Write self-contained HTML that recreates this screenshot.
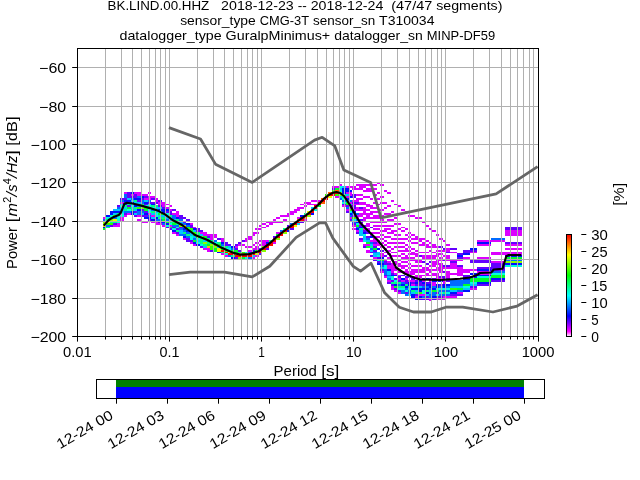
<!DOCTYPE html>
<html><head><meta charset="utf-8"><title>PPSD BK.LIND.00.HHZ</title>
<style>html,body{margin:0;padding:0;background:#fff;overflow:hidden}svg{display:block;will-change:transform}text{font-family:"Liberation Sans",sans-serif;fill:#000}</style></head><body>
<svg width="640" height="480" viewBox="0 0 640 480">
<rect x="0" y="0" width="640" height="480" fill="#fff"/>
<g shape-rendering="crispEdges">
<rect x="103" y="228" width="3" height="2" fill="#00ff2a"/>
<rect x="103" y="227" width="3" height="1" fill="#0010ff"/>
<rect x="103" y="225" width="3" height="2" fill="#e6ff00"/>
<rect x="103" y="221" width="3" height="4" fill="#8bff00"/>
<rect x="103" y="219" width="3" height="2" fill="#006bff"/>
<rect x="103" y="217" width="3" height="2" fill="#db00ff"/>
<rect x="106" y="227" width="4" height="1" fill="#00ff84"/>
<rect x="106" y="225" width="4" height="2" fill="#006bff"/>
<rect x="106" y="223" width="4" height="2" fill="#31ff00"/>
<rect x="106" y="221" width="4" height="2" fill="#e6ff00"/>
<rect x="106" y="219" width="4" height="2" fill="#00ff84"/>
<rect x="106" y="217" width="4" height="2" fill="#00ffde"/>
<rect x="106" y="215" width="4" height="2" fill="#0010ff"/>
<rect x="110" y="225" width="3" height="2" fill="#6300ff"/>
<rect x="110" y="223" width="3" height="2" fill="#31ff00"/>
<rect x="110" y="221" width="3" height="2" fill="#00ff84"/>
<rect x="110" y="219" width="3" height="2" fill="#8bff00"/>
<rect x="110" y="217" width="3" height="2" fill="#00ff84"/>
<rect x="110" y="215" width="3" height="2" fill="#00ffde"/>
<rect x="110" y="211" width="3" height="4" fill="#0010ff"/>
<rect x="113" y="225" width="4" height="2" fill="#db00ff"/>
<rect x="113" y="223" width="4" height="2" fill="#6300ff"/>
<rect x="113" y="221" width="4" height="2" fill="#00ff84"/>
<rect x="113" y="219" width="4" height="2" fill="#e6ff00"/>
<rect x="113" y="217" width="4" height="2" fill="#006bff"/>
<rect x="113" y="215" width="4" height="2" fill="#31ff00"/>
<rect x="113" y="213" width="4" height="2" fill="#00c5ff"/>
<rect x="113" y="211" width="4" height="2" fill="#0010ff"/>
<rect x="113" y="209" width="4" height="2" fill="#00c5ff"/>
<rect x="117" y="223" width="3" height="4" fill="#db00ff"/>
<rect x="117" y="215" width="3" height="8" fill="#00ffde"/>
<rect x="117" y="213" width="3" height="2" fill="#00ff84"/>
<rect x="117" y="211" width="3" height="2" fill="#0010ff"/>
<rect x="117" y="209" width="3" height="2" fill="#00c5ff"/>
<rect x="117" y="207" width="3" height="2" fill="#006bff"/>
<rect x="117" y="205" width="3" height="2" fill="#6300ff"/>
<rect x="120" y="217" width="4" height="4" fill="#db00ff"/>
<rect x="120" y="213" width="4" height="4" fill="#00ffde"/>
<rect x="120" y="207" width="4" height="6" fill="#00c5ff"/>
<rect x="120" y="205" width="4" height="2" fill="#00ffde"/>
<rect x="120" y="204" width="4" height="1" fill="#00c5ff"/>
<rect x="120" y="202" width="4" height="2" fill="#db00ff"/>
<rect x="120" y="200" width="4" height="2" fill="#006bff"/>
<rect x="120" y="198" width="4" height="2" fill="#6300ff"/>
<rect x="124" y="215" width="3" height="2" fill="#db00ff"/>
<rect x="124" y="213" width="3" height="2" fill="#6300ff"/>
<rect x="124" y="211" width="3" height="2" fill="#006bff"/>
<rect x="124" y="209" width="3" height="2" fill="#00ff84"/>
<rect x="124" y="207" width="3" height="2" fill="#00c5ff"/>
<rect x="124" y="205" width="3" height="2" fill="#00ff84"/>
<rect x="124" y="204" width="3" height="1" fill="#0010ff"/>
<rect x="124" y="202" width="3" height="2" fill="#006bff"/>
<rect x="124" y="200" width="3" height="2" fill="#0010ff"/>
<rect x="124" y="198" width="3" height="2" fill="#6300ff"/>
<rect x="124" y="194" width="3" height="4" fill="#006bff"/>
<rect x="124" y="192" width="3" height="2" fill="#db00ff"/>
<rect x="127" y="213" width="4" height="2" fill="#db00ff"/>
<rect x="127" y="211" width="4" height="2" fill="#006bff"/>
<rect x="127" y="209" width="4" height="2" fill="#00ffde"/>
<rect x="127" y="207" width="4" height="2" fill="#00ff2a"/>
<rect x="127" y="205" width="4" height="2" fill="#6300ff"/>
<rect x="127" y="204" width="4" height="1" fill="#00ff84"/>
<rect x="127" y="202" width="4" height="2" fill="#00c5ff"/>
<rect x="127" y="200" width="4" height="2" fill="#0010ff"/>
<rect x="127" y="198" width="4" height="2" fill="#00c5ff"/>
<rect x="127" y="192" width="4" height="6" fill="#6300ff"/>
<rect x="131" y="211" width="3" height="4" fill="#0010ff"/>
<rect x="131" y="209" width="3" height="2" fill="#00ff84"/>
<rect x="131" y="207" width="3" height="2" fill="#00c5ff"/>
<rect x="131" y="205" width="3" height="2" fill="#00ffde"/>
<rect x="131" y="204" width="3" height="1" fill="#00c5ff"/>
<rect x="131" y="202" width="3" height="2" fill="#0010ff"/>
<rect x="131" y="200" width="3" height="2" fill="#00c5ff"/>
<rect x="131" y="198" width="3" height="2" fill="#006bff"/>
<rect x="131" y="196" width="3" height="2" fill="#6300ff"/>
<rect x="131" y="194" width="3" height="2" fill="#db00ff"/>
<rect x="131" y="192" width="3" height="2" fill="#0010ff"/>
<rect x="134" y="215" width="3" height="2" fill="#6300ff"/>
<rect x="134" y="213" width="3" height="2" fill="#00c5ff"/>
<rect x="134" y="211" width="3" height="2" fill="#6300ff"/>
<rect x="134" y="209" width="3" height="2" fill="#00c5ff"/>
<rect x="134" y="207" width="3" height="2" fill="#00ff84"/>
<rect x="134" y="204" width="3" height="3" fill="#0010ff"/>
<rect x="134" y="202" width="3" height="2" fill="#00c5ff"/>
<rect x="134" y="200" width="3" height="2" fill="#00ff84"/>
<rect x="134" y="198" width="3" height="2" fill="#0010ff"/>
<rect x="134" y="194" width="3" height="4" fill="#6300ff"/>
<rect x="134" y="192" width="3" height="2" fill="#db00ff"/>
<rect x="137" y="219" width="4" height="2" fill="#db00ff"/>
<rect x="137" y="215" width="4" height="2" fill="#db00ff"/>
<rect x="137" y="211" width="4" height="4" fill="#006bff"/>
<rect x="137" y="209" width="4" height="2" fill="#0010ff"/>
<rect x="137" y="207" width="4" height="2" fill="#31ff00"/>
<rect x="137" y="205" width="4" height="2" fill="#006bff"/>
<rect x="137" y="202" width="4" height="3" fill="#00c5ff"/>
<rect x="137" y="200" width="4" height="2" fill="#6300ff"/>
<rect x="137" y="198" width="4" height="2" fill="#0010ff"/>
<rect x="137" y="196" width="4" height="2" fill="#006bff"/>
<rect x="137" y="192" width="4" height="4" fill="#db00ff"/>
<rect x="141" y="221" width="3" height="2" fill="#db00ff"/>
<rect x="141" y="215" width="3" height="2" fill="#6300ff"/>
<rect x="141" y="213" width="3" height="2" fill="#00c5ff"/>
<rect x="141" y="211" width="3" height="2" fill="#006bff"/>
<rect x="141" y="209" width="3" height="2" fill="#6300ff"/>
<rect x="141" y="207" width="3" height="2" fill="#8bff00"/>
<rect x="141" y="205" width="3" height="2" fill="#6300ff"/>
<rect x="141" y="204" width="3" height="1" fill="#00ff84"/>
<rect x="141" y="200" width="3" height="4" fill="#006bff"/>
<rect x="141" y="198" width="3" height="2" fill="#6300ff"/>
<rect x="141" y="196" width="3" height="2" fill="#0010ff"/>
<rect x="141" y="194" width="3" height="2" fill="#db00ff"/>
<rect x="144" y="221" width="4" height="2" fill="#db00ff"/>
<rect x="144" y="217" width="4" height="2" fill="#0010ff"/>
<rect x="144" y="215" width="4" height="2" fill="#6300ff"/>
<rect x="144" y="213" width="4" height="2" fill="#0010ff"/>
<rect x="144" y="211" width="4" height="2" fill="#6300ff"/>
<rect x="144" y="207" width="4" height="4" fill="#00ff2a"/>
<rect x="144" y="205" width="4" height="2" fill="#00ffde"/>
<rect x="144" y="204" width="4" height="1" fill="#6300ff"/>
<rect x="144" y="202" width="4" height="2" fill="#0010ff"/>
<rect x="144" y="200" width="4" height="2" fill="#00c5ff"/>
<rect x="144" y="198" width="4" height="2" fill="#db00ff"/>
<rect x="144" y="196" width="4" height="2" fill="#6300ff"/>
<rect x="144" y="194" width="4" height="2" fill="#db00ff"/>
<rect x="148" y="219" width="3" height="2" fill="#6300ff"/>
<rect x="148" y="217" width="3" height="2" fill="#0010ff"/>
<rect x="148" y="215" width="3" height="2" fill="#006bff"/>
<rect x="148" y="213" width="3" height="2" fill="#db00ff"/>
<rect x="148" y="209" width="3" height="4" fill="#00ffde"/>
<rect x="148" y="207" width="3" height="2" fill="#006bff"/>
<rect x="148" y="204" width="3" height="3" fill="#00ffde"/>
<rect x="148" y="202" width="3" height="2" fill="#6300ff"/>
<rect x="148" y="200" width="3" height="2" fill="#006bff"/>
<rect x="148" y="196" width="3" height="4" fill="#db00ff"/>
<rect x="148" y="192" width="3" height="2" fill="#db00ff"/>
<rect x="151" y="221" width="4" height="2" fill="#db00ff"/>
<rect x="151" y="219" width="4" height="2" fill="#0010ff"/>
<rect x="151" y="217" width="4" height="2" fill="#00c5ff"/>
<rect x="151" y="215" width="4" height="2" fill="#db00ff"/>
<rect x="151" y="213" width="4" height="2" fill="#00c5ff"/>
<rect x="151" y="211" width="4" height="2" fill="#00ff84"/>
<rect x="151" y="209" width="4" height="2" fill="#006bff"/>
<rect x="151" y="207" width="4" height="2" fill="#00ffde"/>
<rect x="151" y="205" width="4" height="2" fill="#00ff84"/>
<rect x="151" y="204" width="4" height="1" fill="#0010ff"/>
<rect x="151" y="202" width="4" height="2" fill="#6300ff"/>
<rect x="151" y="198" width="4" height="2" fill="#6300ff"/>
<rect x="151" y="196" width="4" height="2" fill="#db00ff"/>
<rect x="155" y="221" width="3" height="4" fill="#db00ff"/>
<rect x="155" y="219" width="3" height="2" fill="#006bff"/>
<rect x="155" y="217" width="3" height="2" fill="#0010ff"/>
<rect x="155" y="213" width="3" height="4" fill="#00ffde"/>
<rect x="155" y="207" width="3" height="6" fill="#00c5ff"/>
<rect x="155" y="205" width="3" height="2" fill="#00ff84"/>
<rect x="155" y="202" width="3" height="2" fill="#6300ff"/>
<rect x="155" y="198" width="3" height="4" fill="#db00ff"/>
<rect x="158" y="223" width="4" height="2" fill="#db00ff"/>
<rect x="158" y="221" width="4" height="2" fill="#6300ff"/>
<rect x="158" y="219" width="4" height="2" fill="#006bff"/>
<rect x="158" y="217" width="4" height="2" fill="#00ff84"/>
<rect x="158" y="215" width="4" height="2" fill="#00c5ff"/>
<rect x="158" y="213" width="4" height="2" fill="#00ff2a"/>
<rect x="158" y="211" width="4" height="2" fill="#00ffde"/>
<rect x="158" y="209" width="4" height="2" fill="#0010ff"/>
<rect x="158" y="207" width="4" height="2" fill="#00c5ff"/>
<rect x="158" y="205" width="4" height="2" fill="#6300ff"/>
<rect x="158" y="202" width="4" height="3" fill="#db00ff"/>
<rect x="158" y="200" width="4" height="2" fill="#6300ff"/>
<rect x="162" y="225" width="3" height="2" fill="#db00ff"/>
<rect x="162" y="223" width="3" height="2" fill="#006bff"/>
<rect x="162" y="221" width="3" height="2" fill="#0010ff"/>
<rect x="162" y="219" width="3" height="2" fill="#00ff2a"/>
<rect x="162" y="217" width="3" height="2" fill="#00ff84"/>
<rect x="162" y="215" width="3" height="2" fill="#00c5ff"/>
<rect x="162" y="213" width="3" height="2" fill="#00ff2a"/>
<rect x="162" y="209" width="3" height="4" fill="#0010ff"/>
<rect x="162" y="207" width="3" height="2" fill="#6300ff"/>
<rect x="162" y="202" width="3" height="5" fill="#db00ff"/>
<rect x="165" y="227" width="4" height="1" fill="#6300ff"/>
<rect x="165" y="225" width="4" height="2" fill="#00ffde"/>
<rect x="165" y="223" width="4" height="2" fill="#0010ff"/>
<rect x="165" y="221" width="4" height="2" fill="#00ff2a"/>
<rect x="165" y="219" width="4" height="2" fill="#006bff"/>
<rect x="165" y="217" width="4" height="2" fill="#00c5ff"/>
<rect x="165" y="213" width="4" height="4" fill="#00ffde"/>
<rect x="165" y="211" width="4" height="2" fill="#6300ff"/>
<rect x="165" y="209" width="4" height="2" fill="#0010ff"/>
<rect x="165" y="207" width="4" height="2" fill="#db00ff"/>
<rect x="165" y="204" width="4" height="1" fill="#db00ff"/>
<rect x="169" y="228" width="3" height="2" fill="#6300ff"/>
<rect x="169" y="227" width="3" height="1" fill="#00ff2a"/>
<rect x="169" y="225" width="3" height="2" fill="#db00ff"/>
<rect x="169" y="223" width="3" height="2" fill="#00ffde"/>
<rect x="169" y="221" width="3" height="2" fill="#00ff84"/>
<rect x="169" y="217" width="3" height="4" fill="#00c5ff"/>
<rect x="169" y="215" width="3" height="2" fill="#00ff84"/>
<rect x="169" y="211" width="3" height="4" fill="#6300ff"/>
<rect x="169" y="209" width="3" height="2" fill="#db00ff"/>
<rect x="169" y="205" width="3" height="2" fill="#db00ff"/>
<rect x="172" y="232" width="4" height="2" fill="#db00ff"/>
<rect x="172" y="230" width="4" height="2" fill="#0010ff"/>
<rect x="172" y="228" width="4" height="2" fill="#00ffde"/>
<rect x="172" y="227" width="4" height="1" fill="#6300ff"/>
<rect x="172" y="225" width="4" height="2" fill="#006bff"/>
<rect x="172" y="223" width="4" height="2" fill="#00ff2a"/>
<rect x="172" y="221" width="4" height="2" fill="#00ff84"/>
<rect x="172" y="219" width="4" height="2" fill="#00c5ff"/>
<rect x="172" y="215" width="4" height="4" fill="#006bff"/>
<rect x="172" y="213" width="4" height="2" fill="#db00ff"/>
<rect x="172" y="209" width="4" height="2" fill="#6300ff"/>
<rect x="176" y="234" width="3" height="2" fill="#db00ff"/>
<rect x="176" y="232" width="3" height="2" fill="#6300ff"/>
<rect x="176" y="230" width="3" height="2" fill="#00ff84"/>
<rect x="176" y="228" width="3" height="2" fill="#6300ff"/>
<rect x="176" y="227" width="3" height="1" fill="#00ffde"/>
<rect x="176" y="225" width="3" height="2" fill="#006bff"/>
<rect x="176" y="223" width="3" height="2" fill="#00ff84"/>
<rect x="176" y="221" width="3" height="2" fill="#00c5ff"/>
<rect x="176" y="219" width="3" height="2" fill="#00ff84"/>
<rect x="176" y="217" width="3" height="2" fill="#0010ff"/>
<rect x="176" y="211" width="3" height="6" fill="#db00ff"/>
<rect x="179" y="234" width="4" height="2" fill="#006bff"/>
<rect x="179" y="230" width="4" height="4" fill="#00c5ff"/>
<rect x="179" y="228" width="4" height="2" fill="#006bff"/>
<rect x="179" y="227" width="4" height="1" fill="#6300ff"/>
<rect x="179" y="225" width="4" height="2" fill="#8bff00"/>
<rect x="179" y="223" width="4" height="2" fill="#006bff"/>
<rect x="179" y="221" width="4" height="2" fill="#00c5ff"/>
<rect x="179" y="219" width="4" height="2" fill="#006bff"/>
<rect x="179" y="215" width="4" height="4" fill="#6300ff"/>
<rect x="183" y="238" width="3" height="2" fill="#db00ff"/>
<rect x="183" y="236" width="3" height="2" fill="#0010ff"/>
<rect x="183" y="234" width="3" height="2" fill="#006bff"/>
<rect x="183" y="232" width="3" height="2" fill="#00ff84"/>
<rect x="183" y="230" width="3" height="2" fill="#006bff"/>
<rect x="183" y="228" width="3" height="2" fill="#0010ff"/>
<rect x="183" y="227" width="3" height="1" fill="#00c5ff"/>
<rect x="183" y="225" width="3" height="2" fill="#ffbe00"/>
<rect x="183" y="223" width="3" height="2" fill="#006bff"/>
<rect x="183" y="221" width="3" height="2" fill="#6300ff"/>
<rect x="183" y="217" width="3" height="2" fill="#6300ff"/>
<rect x="186" y="238" width="4" height="4" fill="#6300ff"/>
<rect x="186" y="236" width="4" height="2" fill="#006bff"/>
<rect x="186" y="234" width="4" height="2" fill="#00ff84"/>
<rect x="186" y="232" width="4" height="2" fill="#006bff"/>
<rect x="186" y="230" width="4" height="2" fill="#0010ff"/>
<rect x="186" y="228" width="4" height="2" fill="#00ff84"/>
<rect x="186" y="227" width="4" height="1" fill="#31ff00"/>
<rect x="186" y="225" width="4" height="2" fill="#006bff"/>
<rect x="186" y="223" width="4" height="2" fill="#0010ff"/>
<rect x="186" y="219" width="4" height="2" fill="#6300ff"/>
<rect x="190" y="242" width="3" height="2" fill="#db00ff"/>
<rect x="190" y="240" width="3" height="2" fill="#6300ff"/>
<rect x="190" y="236" width="3" height="4" fill="#00ffde"/>
<rect x="190" y="232" width="3" height="4" fill="#00c5ff"/>
<rect x="190" y="230" width="3" height="2" fill="#00ff2a"/>
<rect x="190" y="228" width="3" height="2" fill="#31ff00"/>
<rect x="190" y="225" width="3" height="3" fill="#6300ff"/>
<rect x="190" y="223" width="3" height="2" fill="#db00ff"/>
<rect x="193" y="244" width="3" height="2" fill="#db00ff"/>
<rect x="193" y="242" width="3" height="2" fill="#0010ff"/>
<rect x="193" y="240" width="3" height="2" fill="#00ff2a"/>
<rect x="193" y="238" width="3" height="2" fill="#006bff"/>
<rect x="193" y="236" width="3" height="2" fill="#00c5ff"/>
<rect x="193" y="234" width="3" height="2" fill="#00ff2a"/>
<rect x="193" y="232" width="3" height="2" fill="#31ff00"/>
<rect x="193" y="230" width="3" height="2" fill="#00c5ff"/>
<rect x="193" y="228" width="3" height="2" fill="#0010ff"/>
<rect x="193" y="227" width="3" height="1" fill="#db00ff"/>
<rect x="196" y="244" width="4" height="2" fill="#0010ff"/>
<rect x="196" y="242" width="4" height="2" fill="#00ffde"/>
<rect x="196" y="240" width="4" height="2" fill="#00c5ff"/>
<rect x="196" y="238" width="4" height="2" fill="#00ffde"/>
<rect x="196" y="236" width="4" height="2" fill="#31ff00"/>
<rect x="196" y="232" width="4" height="4" fill="#00ff84"/>
<rect x="196" y="228" width="4" height="4" fill="#6300ff"/>
<rect x="200" y="246" width="3" height="2" fill="#6300ff"/>
<rect x="200" y="244" width="3" height="2" fill="#00ffde"/>
<rect x="200" y="238" width="3" height="6" fill="#00ff84"/>
<rect x="200" y="236" width="3" height="2" fill="#8bff00"/>
<rect x="200" y="234" width="3" height="2" fill="#00c5ff"/>
<rect x="200" y="232" width="3" height="2" fill="#db00ff"/>
<rect x="200" y="230" width="3" height="2" fill="#6300ff"/>
<rect x="203" y="248" width="4" height="2" fill="#db00ff"/>
<rect x="203" y="246" width="4" height="2" fill="#00c5ff"/>
<rect x="203" y="244" width="4" height="2" fill="#00ff84"/>
<rect x="203" y="242" width="4" height="2" fill="#8bff00"/>
<rect x="203" y="240" width="4" height="2" fill="#00c5ff"/>
<rect x="203" y="238" width="4" height="2" fill="#31ff00"/>
<rect x="203" y="236" width="4" height="2" fill="#00ff2a"/>
<rect x="203" y="232" width="4" height="4" fill="#db00ff"/>
<rect x="207" y="248" width="3" height="4" fill="#db00ff"/>
<rect x="207" y="246" width="3" height="2" fill="#ffbe00"/>
<rect x="207" y="244" width="3" height="2" fill="#00ff2a"/>
<rect x="207" y="242" width="3" height="2" fill="#00ff84"/>
<rect x="207" y="240" width="3" height="2" fill="#00ff2a"/>
<rect x="207" y="238" width="3" height="2" fill="#00ff84"/>
<rect x="207" y="236" width="3" height="2" fill="#6300ff"/>
<rect x="207" y="234" width="3" height="2" fill="#db00ff"/>
<rect x="210" y="250" width="4" height="2" fill="#6300ff"/>
<rect x="210" y="246" width="4" height="4" fill="#31ff00"/>
<rect x="210" y="244" width="4" height="2" fill="#8bff00"/>
<rect x="210" y="240" width="4" height="4" fill="#00ff84"/>
<rect x="210" y="234" width="4" height="6" fill="#db00ff"/>
<rect x="214" y="248" width="3" height="4" fill="#00ff2a"/>
<rect x="214" y="246" width="3" height="2" fill="#8bff00"/>
<rect x="214" y="244" width="3" height="2" fill="#31ff00"/>
<rect x="214" y="242" width="3" height="2" fill="#00ffde"/>
<rect x="214" y="240" width="3" height="2" fill="#006bff"/>
<rect x="214" y="234" width="3" height="4" fill="#db00ff"/>
<rect x="217" y="252" width="4" height="1" fill="#0010ff"/>
<rect x="217" y="248" width="4" height="4" fill="#e6ff00"/>
<rect x="217" y="246" width="4" height="2" fill="#00c5ff"/>
<rect x="217" y="244" width="4" height="2" fill="#00ff2a"/>
<rect x="217" y="242" width="4" height="2" fill="#00ff84"/>
<rect x="217" y="238" width="4" height="2" fill="#6300ff"/>
<rect x="221" y="253" width="3" height="2" fill="#db00ff"/>
<rect x="221" y="252" width="3" height="1" fill="#00ff84"/>
<rect x="221" y="250" width="3" height="2" fill="#ff0000"/>
<rect x="221" y="248" width="3" height="2" fill="#00ff2a"/>
<rect x="221" y="246" width="3" height="2" fill="#00ff84"/>
<rect x="221" y="244" width="3" height="2" fill="#006bff"/>
<rect x="221" y="242" width="3" height="2" fill="#0010ff"/>
<rect x="221" y="238" width="3" height="4" fill="#db00ff"/>
<rect x="224" y="255" width="4" height="2" fill="#db00ff"/>
<rect x="224" y="253" width="4" height="2" fill="#00ffde"/>
<rect x="224" y="252" width="4" height="1" fill="#ff0900"/>
<rect x="224" y="250" width="4" height="2" fill="#31ff00"/>
<rect x="224" y="248" width="4" height="2" fill="#00ffde"/>
<rect x="224" y="246" width="4" height="2" fill="#00ff84"/>
<rect x="224" y="242" width="4" height="4" fill="#6300ff"/>
<rect x="228" y="255" width="3" height="2" fill="#006bff"/>
<rect x="228" y="253" width="3" height="2" fill="#ff0900"/>
<rect x="228" y="252" width="3" height="1" fill="#e6ff00"/>
<rect x="228" y="250" width="3" height="2" fill="#00c5ff"/>
<rect x="228" y="248" width="3" height="2" fill="#00ffde"/>
<rect x="228" y="246" width="3" height="2" fill="#00c5ff"/>
<rect x="228" y="244" width="3" height="2" fill="#6300ff"/>
<rect x="231" y="257" width="4" height="2" fill="#0010ff"/>
<rect x="231" y="255" width="4" height="2" fill="#00ff84"/>
<rect x="231" y="253" width="4" height="2" fill="#ff0000"/>
<rect x="231" y="252" width="4" height="1" fill="#00ff84"/>
<rect x="231" y="250" width="4" height="2" fill="#00ff2a"/>
<rect x="231" y="248" width="4" height="2" fill="#006bff"/>
<rect x="231" y="246" width="4" height="2" fill="#0010ff"/>
<rect x="235" y="257" width="3" height="2" fill="#6300ff"/>
<rect x="235" y="255" width="3" height="2" fill="#ff0000"/>
<rect x="235" y="250" width="3" height="5" fill="#00ff2a"/>
<rect x="235" y="248" width="3" height="2" fill="#6300ff"/>
<rect x="235" y="246" width="3" height="2" fill="#db00ff"/>
<rect x="235" y="244" width="3" height="2" fill="#6300ff"/>
<rect x="238" y="257" width="4" height="2" fill="#8bff00"/>
<rect x="238" y="255" width="4" height="2" fill="#ff0900"/>
<rect x="238" y="253" width="4" height="2" fill="#e6ff00"/>
<rect x="238" y="252" width="4" height="1" fill="#00ff84"/>
<rect x="238" y="250" width="4" height="2" fill="#6300ff"/>
<rect x="238" y="244" width="4" height="2" fill="#db00ff"/>
<rect x="238" y="242" width="4" height="2" fill="#6300ff"/>
<rect x="242" y="257" width="3" height="2" fill="#00ff2a"/>
<rect x="242" y="255" width="3" height="2" fill="#ff0000"/>
<rect x="242" y="253" width="3" height="2" fill="#8bff00"/>
<rect x="242" y="252" width="3" height="1" fill="#31ff00"/>
<rect x="242" y="244" width="3" height="2" fill="#db00ff"/>
<rect x="242" y="240" width="3" height="2" fill="#6300ff"/>
<rect x="245" y="257" width="3" height="2" fill="#00ffde"/>
<rect x="245" y="255" width="3" height="2" fill="#ff0000"/>
<rect x="245" y="253" width="3" height="2" fill="#8bff00"/>
<rect x="245" y="252" width="3" height="1" fill="#00ffde"/>
<rect x="245" y="246" width="3" height="2" fill="#db00ff"/>
<rect x="245" y="238" width="3" height="4" fill="#db00ff"/>
<rect x="248" y="257" width="4" height="2" fill="#006bff"/>
<rect x="248" y="255" width="4" height="2" fill="#ff0000"/>
<rect x="248" y="253" width="4" height="2" fill="#ff0000"/>
<rect x="248" y="252" width="4" height="1" fill="#006bff"/>
<rect x="248" y="250" width="4" height="2" fill="#db00ff"/>
<rect x="248" y="246" width="4" height="2" fill="#db00ff"/>
<rect x="248" y="236" width="4" height="4" fill="#db00ff"/>
<rect x="252" y="257" width="3" height="2" fill="#db00ff"/>
<rect x="252" y="255" width="3" height="2" fill="#00c5ff"/>
<rect x="252" y="253" width="3" height="2" fill="#ff0000"/>
<rect x="252" y="252" width="3" height="1" fill="#ffbe00"/>
<rect x="252" y="250" width="3" height="2" fill="#0010ff"/>
<rect x="252" y="248" width="3" height="2" fill="#db00ff"/>
<rect x="252" y="244" width="3" height="2" fill="#db00ff"/>
<rect x="252" y="232" width="3" height="4" fill="#db00ff"/>
<rect x="255" y="255" width="4" height="2" fill="#db00ff"/>
<rect x="255" y="253" width="4" height="2" fill="#e6ff00"/>
<rect x="255" y="252" width="4" height="1" fill="#ff0000"/>
<rect x="255" y="250" width="4" height="2" fill="#00ff2a"/>
<rect x="255" y="246" width="4" height="4" fill="#db00ff"/>
<rect x="255" y="242" width="4" height="2" fill="#db00ff"/>
<rect x="255" y="232" width="4" height="2" fill="#db00ff"/>
<rect x="255" y="228" width="4" height="2" fill="#db00ff"/>
<rect x="259" y="253" width="3" height="2" fill="#6300ff"/>
<rect x="259" y="252" width="3" height="1" fill="#ff0000"/>
<rect x="259" y="250" width="3" height="2" fill="#ff0000"/>
<rect x="259" y="248" width="3" height="2" fill="#006bff"/>
<rect x="259" y="244" width="3" height="2" fill="#db00ff"/>
<rect x="259" y="240" width="3" height="2" fill="#db00ff"/>
<rect x="259" y="228" width="3" height="2" fill="#db00ff"/>
<rect x="259" y="225" width="3" height="2" fill="#db00ff"/>
<rect x="262" y="250" width="4" height="2" fill="#8bff00"/>
<rect x="262" y="248" width="4" height="2" fill="#ff0000"/>
<rect x="262" y="246" width="4" height="2" fill="#8bff00"/>
<rect x="262" y="240" width="4" height="6" fill="#db00ff"/>
<rect x="262" y="227" width="4" height="1" fill="#db00ff"/>
<rect x="262" y="223" width="4" height="2" fill="#db00ff"/>
<rect x="266" y="248" width="3" height="2" fill="#6300ff"/>
<rect x="266" y="246" width="3" height="2" fill="#ff0000"/>
<rect x="266" y="244" width="3" height="2" fill="#ff0000"/>
<rect x="266" y="242" width="3" height="2" fill="#0010ff"/>
<rect x="266" y="240" width="3" height="2" fill="#db00ff"/>
<rect x="266" y="225" width="3" height="2" fill="#db00ff"/>
<rect x="266" y="221" width="3" height="2" fill="#db00ff"/>
<rect x="269" y="244" width="4" height="2" fill="#ff0900"/>
<rect x="269" y="242" width="4" height="2" fill="#ff0000"/>
<rect x="269" y="240" width="4" height="2" fill="#00ff84"/>
<rect x="269" y="221" width="4" height="4" fill="#db00ff"/>
<rect x="273" y="242" width="3" height="2" fill="#db00ff"/>
<rect x="273" y="240" width="3" height="2" fill="#ff0000"/>
<rect x="273" y="238" width="3" height="2" fill="#ff0000"/>
<rect x="273" y="236" width="3" height="2" fill="#6300ff"/>
<rect x="273" y="219" width="3" height="4" fill="#db00ff"/>
<rect x="276" y="238" width="4" height="2" fill="#8bff00"/>
<rect x="276" y="236" width="4" height="2" fill="#ff0000"/>
<rect x="276" y="234" width="4" height="2" fill="#00ff2a"/>
<rect x="276" y="232" width="4" height="2" fill="#db00ff"/>
<rect x="276" y="221" width="4" height="2" fill="#db00ff"/>
<rect x="276" y="217" width="4" height="2" fill="#db00ff"/>
<rect x="280" y="234" width="3" height="2" fill="#ff0000"/>
<rect x="280" y="232" width="3" height="2" fill="#ff0000"/>
<rect x="280" y="230" width="3" height="2" fill="#006bff"/>
<rect x="280" y="221" width="3" height="2" fill="#db00ff"/>
<rect x="280" y="215" width="3" height="2" fill="#db00ff"/>
<rect x="283" y="232" width="4" height="2" fill="#8bff00"/>
<rect x="283" y="230" width="4" height="2" fill="#ff0000"/>
<rect x="283" y="228" width="4" height="2" fill="#00ff84"/>
<rect x="283" y="219" width="4" height="2" fill="#db00ff"/>
<rect x="283" y="215" width="4" height="2" fill="#db00ff"/>
<rect x="287" y="230" width="3" height="2" fill="#0010ff"/>
<rect x="287" y="228" width="3" height="2" fill="#ff0000"/>
<rect x="287" y="227" width="3" height="1" fill="#ff0000"/>
<rect x="287" y="225" width="3" height="2" fill="#6300ff"/>
<rect x="287" y="213" width="3" height="4" fill="#db00ff"/>
<rect x="290" y="228" width="4" height="2" fill="#6300ff"/>
<rect x="290" y="227" width="4" height="1" fill="#ff0000"/>
<rect x="290" y="225" width="4" height="2" fill="#ff0000"/>
<rect x="290" y="223" width="4" height="2" fill="#006bff"/>
<rect x="290" y="211" width="4" height="4" fill="#db00ff"/>
<rect x="294" y="225" width="3" height="2" fill="#e6ff00"/>
<rect x="294" y="223" width="3" height="2" fill="#ff0000"/>
<rect x="294" y="221" width="3" height="2" fill="#e6ff00"/>
<rect x="294" y="209" width="3" height="4" fill="#db00ff"/>
<rect x="297" y="223" width="3" height="2" fill="#00c5ff"/>
<rect x="297" y="221" width="3" height="2" fill="#ff0000"/>
<rect x="297" y="219" width="3" height="2" fill="#ff6300"/>
<rect x="297" y="217" width="3" height="2" fill="#db00ff"/>
<rect x="297" y="207" width="3" height="4" fill="#db00ff"/>
<rect x="300" y="221" width="4" height="2" fill="#6300ff"/>
<rect x="300" y="219" width="4" height="2" fill="#ff0000"/>
<rect x="300" y="217" width="4" height="2" fill="#ff0000"/>
<rect x="300" y="215" width="4" height="2" fill="#0010ff"/>
<rect x="300" y="207" width="4" height="2" fill="#db00ff"/>
<rect x="300" y="204" width="4" height="1" fill="#db00ff"/>
<rect x="304" y="219" width="3" height="2" fill="#db00ff"/>
<rect x="304" y="217" width="3" height="2" fill="#ff6300"/>
<rect x="304" y="215" width="3" height="2" fill="#ff0000"/>
<rect x="304" y="213" width="3" height="2" fill="#00ff84"/>
<rect x="304" y="205" width="3" height="2" fill="#db00ff"/>
<rect x="304" y="202" width="3" height="2" fill="#db00ff"/>
<rect x="307" y="215" width="4" height="2" fill="#8bff00"/>
<rect x="307" y="213" width="4" height="2" fill="#ff0000"/>
<rect x="307" y="211" width="4" height="2" fill="#e6ff00"/>
<rect x="307" y="202" width="4" height="3" fill="#db00ff"/>
<rect x="311" y="213" width="3" height="2" fill="#0010ff"/>
<rect x="311" y="211" width="3" height="2" fill="#ff0000"/>
<rect x="311" y="209" width="3" height="2" fill="#ff0000"/>
<rect x="311" y="207" width="3" height="2" fill="#00c5ff"/>
<rect x="311" y="204" width="3" height="1" fill="#db00ff"/>
<rect x="311" y="200" width="3" height="2" fill="#db00ff"/>
<rect x="314" y="209" width="4" height="2" fill="#00ffde"/>
<rect x="314" y="207" width="4" height="2" fill="#ff0000"/>
<rect x="314" y="205" width="4" height="2" fill="#ff0000"/>
<rect x="314" y="204" width="4" height="1" fill="#db00ff"/>
<rect x="314" y="200" width="4" height="2" fill="#db00ff"/>
<rect x="318" y="205" width="3" height="2" fill="#00ff2a"/>
<rect x="318" y="204" width="3" height="1" fill="#ff0000"/>
<rect x="318" y="202" width="3" height="2" fill="#ff0900"/>
<rect x="318" y="200" width="3" height="2" fill="#db00ff"/>
<rect x="321" y="202" width="4" height="2" fill="#ff6300"/>
<rect x="321" y="200" width="4" height="2" fill="#ff0000"/>
<rect x="321" y="198" width="4" height="2" fill="#ff6300"/>
<rect x="325" y="198" width="3" height="2" fill="#ff0000"/>
<rect x="325" y="196" width="3" height="2" fill="#ff0000"/>
<rect x="325" y="194" width="3" height="2" fill="#31ff00"/>
<rect x="328" y="196" width="4" height="2" fill="#e6ff00"/>
<rect x="328" y="194" width="4" height="2" fill="#ff0000"/>
<rect x="328" y="192" width="4" height="2" fill="#ff6300"/>
<rect x="332" y="194" width="3" height="2" fill="#ff0900"/>
<rect x="332" y="192" width="3" height="2" fill="#ff0000"/>
<rect x="332" y="190" width="3" height="2" fill="#31ff00"/>
<rect x="332" y="188" width="3" height="2" fill="#6300ff"/>
<rect x="332" y="186" width="3" height="2" fill="#db00ff"/>
<rect x="335" y="196" width="4" height="2" fill="#db00ff"/>
<rect x="335" y="194" width="4" height="2" fill="#31ff00"/>
<rect x="335" y="192" width="4" height="2" fill="#ff0000"/>
<rect x="335" y="190" width="4" height="2" fill="#ff6300"/>
<rect x="335" y="188" width="4" height="2" fill="#00ff2a"/>
<rect x="335" y="186" width="4" height="2" fill="#db00ff"/>
<rect x="339" y="198" width="3" height="2" fill="#006bff"/>
<rect x="339" y="196" width="3" height="2" fill="#00c5ff"/>
<rect x="339" y="192" width="3" height="4" fill="#8bff00"/>
<rect x="339" y="190" width="3" height="2" fill="#00ffde"/>
<rect x="339" y="188" width="3" height="2" fill="#00c5ff"/>
<rect x="339" y="186" width="3" height="2" fill="#00ffde"/>
<rect x="339" y="184" width="3" height="2" fill="#db00ff"/>
<rect x="342" y="205" width="4" height="2" fill="#db00ff"/>
<rect x="342" y="204" width="4" height="1" fill="#6300ff"/>
<rect x="342" y="202" width="4" height="2" fill="#00ffde"/>
<rect x="342" y="200" width="4" height="2" fill="#006bff"/>
<rect x="342" y="198" width="4" height="2" fill="#00ffde"/>
<rect x="342" y="194" width="4" height="4" fill="#00ff84"/>
<rect x="342" y="188" width="4" height="6" fill="#0010ff"/>
<rect x="342" y="186" width="4" height="2" fill="#00c5ff"/>
<rect x="346" y="211" width="3" height="2" fill="#6300ff"/>
<rect x="346" y="209" width="3" height="2" fill="#db00ff"/>
<rect x="346" y="207" width="3" height="2" fill="#006bff"/>
<rect x="346" y="205" width="3" height="2" fill="#6300ff"/>
<rect x="346" y="204" width="3" height="1" fill="#31ff00"/>
<rect x="346" y="202" width="3" height="2" fill="#00ff2a"/>
<rect x="346" y="200" width="3" height="2" fill="#006bff"/>
<rect x="346" y="198" width="3" height="2" fill="#0010ff"/>
<rect x="346" y="196" width="3" height="2" fill="#db00ff"/>
<rect x="346" y="194" width="3" height="2" fill="#00c5ff"/>
<rect x="346" y="192" width="3" height="2" fill="#db00ff"/>
<rect x="346" y="188" width="3" height="4" fill="#0010ff"/>
<rect x="346" y="186" width="3" height="2" fill="#db00ff"/>
<rect x="349" y="219" width="3" height="2" fill="#6300ff"/>
<rect x="349" y="217" width="3" height="2" fill="#db00ff"/>
<rect x="349" y="215" width="3" height="2" fill="#006bff"/>
<rect x="349" y="213" width="3" height="2" fill="#0010ff"/>
<rect x="349" y="211" width="3" height="2" fill="#00ffde"/>
<rect x="349" y="209" width="3" height="2" fill="#31ff00"/>
<rect x="349" y="207" width="3" height="2" fill="#db00ff"/>
<rect x="349" y="205" width="3" height="2" fill="#6300ff"/>
<rect x="349" y="204" width="3" height="1" fill="#00c5ff"/>
<rect x="349" y="202" width="3" height="2" fill="#db00ff"/>
<rect x="349" y="200" width="3" height="2" fill="#006bff"/>
<rect x="349" y="196" width="3" height="2" fill="#0010ff"/>
<rect x="349" y="192" width="3" height="4" fill="#db00ff"/>
<rect x="349" y="190" width="3" height="2" fill="#0010ff"/>
<rect x="349" y="186" width="3" height="2" fill="#db00ff"/>
<rect x="352" y="228" width="4" height="2" fill="#db00ff"/>
<rect x="352" y="225" width="4" height="2" fill="#db00ff"/>
<rect x="352" y="223" width="4" height="2" fill="#6300ff"/>
<rect x="352" y="221" width="4" height="2" fill="#006bff"/>
<rect x="352" y="219" width="4" height="2" fill="#00ffde"/>
<rect x="352" y="217" width="4" height="2" fill="#31ff00"/>
<rect x="352" y="215" width="4" height="2" fill="#6300ff"/>
<rect x="352" y="213" width="4" height="2" fill="#006bff"/>
<rect x="352" y="211" width="4" height="2" fill="#0010ff"/>
<rect x="352" y="209" width="4" height="2" fill="#db00ff"/>
<rect x="352" y="205" width="4" height="4" fill="#6300ff"/>
<rect x="352" y="204" width="4" height="1" fill="#db00ff"/>
<rect x="352" y="202" width="4" height="2" fill="#6300ff"/>
<rect x="352" y="200" width="4" height="2" fill="#db00ff"/>
<rect x="352" y="194" width="4" height="4" fill="#6300ff"/>
<rect x="352" y="186" width="4" height="4" fill="#db00ff"/>
<rect x="356" y="232" width="3" height="2" fill="#6300ff"/>
<rect x="356" y="230" width="3" height="2" fill="#db00ff"/>
<rect x="356" y="228" width="3" height="2" fill="#0010ff"/>
<rect x="356" y="227" width="3" height="1" fill="#006bff"/>
<rect x="356" y="225" width="3" height="2" fill="#00ff2a"/>
<rect x="356" y="223" width="3" height="2" fill="#00ffde"/>
<rect x="356" y="221" width="3" height="2" fill="#0010ff"/>
<rect x="356" y="219" width="3" height="2" fill="#006bff"/>
<rect x="356" y="215" width="3" height="4" fill="#db00ff"/>
<rect x="356" y="213" width="3" height="2" fill="#006bff"/>
<rect x="356" y="207" width="3" height="4" fill="#db00ff"/>
<rect x="356" y="204" width="3" height="1" fill="#db00ff"/>
<rect x="356" y="202" width="3" height="2" fill="#6300ff"/>
<rect x="356" y="198" width="3" height="4" fill="#db00ff"/>
<rect x="356" y="194" width="3" height="2" fill="#db00ff"/>
<rect x="356" y="188" width="3" height="2" fill="#db00ff"/>
<rect x="356" y="184" width="3" height="2" fill="#db00ff"/>
<rect x="359" y="240" width="4" height="2" fill="#db00ff"/>
<rect x="359" y="238" width="4" height="2" fill="#6300ff"/>
<rect x="359" y="230" width="4" height="6" fill="#00c5ff"/>
<rect x="359" y="228" width="4" height="2" fill="#00ff84"/>
<rect x="359" y="227" width="4" height="1" fill="#0010ff"/>
<rect x="359" y="225" width="4" height="2" fill="#6300ff"/>
<rect x="359" y="223" width="4" height="2" fill="#db00ff"/>
<rect x="359" y="219" width="4" height="4" fill="#6300ff"/>
<rect x="359" y="213" width="4" height="4" fill="#db00ff"/>
<rect x="359" y="209" width="4" height="2" fill="#db00ff"/>
<rect x="359" y="207" width="4" height="2" fill="#6300ff"/>
<rect x="359" y="202" width="4" height="3" fill="#db00ff"/>
<rect x="359" y="198" width="4" height="2" fill="#db00ff"/>
<rect x="359" y="194" width="4" height="2" fill="#db00ff"/>
<rect x="359" y="184" width="4" height="6" fill="#db00ff"/>
<rect x="363" y="246" width="3" height="2" fill="#6300ff"/>
<rect x="363" y="244" width="3" height="2" fill="#db00ff"/>
<rect x="363" y="240" width="3" height="2" fill="#00ffde"/>
<rect x="363" y="236" width="3" height="4" fill="#00c5ff"/>
<rect x="363" y="234" width="3" height="2" fill="#00ffde"/>
<rect x="363" y="232" width="3" height="2" fill="#0010ff"/>
<rect x="363" y="230" width="3" height="2" fill="#6300ff"/>
<rect x="363" y="228" width="3" height="2" fill="#db00ff"/>
<rect x="363" y="225" width="3" height="3" fill="#6300ff"/>
<rect x="363" y="217" width="3" height="4" fill="#db00ff"/>
<rect x="363" y="207" width="3" height="8" fill="#db00ff"/>
<rect x="363" y="202" width="3" height="3" fill="#db00ff"/>
<rect x="363" y="196" width="3" height="2" fill="#db00ff"/>
<rect x="363" y="190" width="3" height="2" fill="#db00ff"/>
<rect x="363" y="184" width="3" height="4" fill="#db00ff"/>
<rect x="366" y="250" width="4" height="3" fill="#db00ff"/>
<rect x="366" y="246" width="4" height="2" fill="#00ff2a"/>
<rect x="366" y="244" width="4" height="2" fill="#db00ff"/>
<rect x="366" y="242" width="4" height="2" fill="#00ff2a"/>
<rect x="366" y="240" width="4" height="2" fill="#00c5ff"/>
<rect x="366" y="238" width="4" height="2" fill="#006bff"/>
<rect x="366" y="236" width="4" height="2" fill="#6300ff"/>
<rect x="366" y="230" width="4" height="4" fill="#6300ff"/>
<rect x="366" y="228" width="4" height="2" fill="#db00ff"/>
<rect x="366" y="223" width="4" height="4" fill="#db00ff"/>
<rect x="366" y="213" width="4" height="6" fill="#db00ff"/>
<rect x="366" y="209" width="4" height="2" fill="#db00ff"/>
<rect x="366" y="204" width="4" height="3" fill="#db00ff"/>
<rect x="366" y="196" width="4" height="2" fill="#db00ff"/>
<rect x="366" y="188" width="4" height="4" fill="#db00ff"/>
<rect x="366" y="184" width="4" height="2" fill="#db00ff"/>
<rect x="370" y="255" width="3" height="2" fill="#6300ff"/>
<rect x="370" y="252" width="3" height="1" fill="#6300ff"/>
<rect x="370" y="250" width="3" height="2" fill="#00c5ff"/>
<rect x="370" y="248" width="3" height="2" fill="#006bff"/>
<rect x="370" y="246" width="3" height="2" fill="#00ff84"/>
<rect x="370" y="244" width="3" height="2" fill="#00c5ff"/>
<rect x="370" y="242" width="3" height="2" fill="#006bff"/>
<rect x="370" y="240" width="3" height="2" fill="#db00ff"/>
<rect x="370" y="236" width="3" height="2" fill="#0010ff"/>
<rect x="370" y="232" width="3" height="4" fill="#db00ff"/>
<rect x="370" y="227" width="3" height="1" fill="#6300ff"/>
<rect x="370" y="221" width="3" height="2" fill="#db00ff"/>
<rect x="370" y="217" width="3" height="2" fill="#db00ff"/>
<rect x="370" y="211" width="3" height="4" fill="#db00ff"/>
<rect x="370" y="205" width="3" height="4" fill="#db00ff"/>
<rect x="370" y="198" width="3" height="2" fill="#db00ff"/>
<rect x="370" y="188" width="3" height="4" fill="#db00ff"/>
<rect x="370" y="184" width="3" height="2" fill="#db00ff"/>
<rect x="373" y="259" width="4" height="2" fill="#6300ff"/>
<rect x="373" y="257" width="4" height="2" fill="#db00ff"/>
<rect x="373" y="253" width="4" height="4" fill="#00c5ff"/>
<rect x="373" y="252" width="4" height="1" fill="#006bff"/>
<rect x="373" y="250" width="4" height="2" fill="#6300ff"/>
<rect x="373" y="248" width="4" height="2" fill="#00ff2a"/>
<rect x="373" y="246" width="4" height="2" fill="#6300ff"/>
<rect x="373" y="244" width="4" height="2" fill="#db00ff"/>
<rect x="373" y="242" width="4" height="2" fill="#6300ff"/>
<rect x="373" y="236" width="4" height="6" fill="#db00ff"/>
<rect x="373" y="232" width="4" height="2" fill="#db00ff"/>
<rect x="373" y="228" width="4" height="2" fill="#db00ff"/>
<rect x="373" y="225" width="4" height="2" fill="#db00ff"/>
<rect x="373" y="221" width="4" height="2" fill="#db00ff"/>
<rect x="373" y="215" width="4" height="4" fill="#db00ff"/>
<rect x="373" y="211" width="4" height="2" fill="#db00ff"/>
<rect x="373" y="207" width="4" height="2" fill="#db00ff"/>
<rect x="373" y="202" width="4" height="2" fill="#db00ff"/>
<rect x="373" y="194" width="4" height="2" fill="#db00ff"/>
<rect x="373" y="188" width="4" height="2" fill="#db00ff"/>
<rect x="373" y="184" width="4" height="2" fill="#db00ff"/>
<rect x="377" y="263" width="3" height="2" fill="#0010ff"/>
<rect x="377" y="261" width="3" height="2" fill="#6300ff"/>
<rect x="377" y="259" width="3" height="2" fill="#00ffde"/>
<rect x="377" y="257" width="3" height="2" fill="#6300ff"/>
<rect x="377" y="255" width="3" height="2" fill="#00ffde"/>
<rect x="377" y="252" width="3" height="3" fill="#00c5ff"/>
<rect x="377" y="248" width="3" height="2" fill="#0010ff"/>
<rect x="377" y="240" width="3" height="6" fill="#db00ff"/>
<rect x="377" y="236" width="3" height="2" fill="#db00ff"/>
<rect x="377" y="232" width="3" height="2" fill="#db00ff"/>
<rect x="377" y="228" width="3" height="2" fill="#db00ff"/>
<rect x="377" y="225" width="3" height="2" fill="#db00ff"/>
<rect x="377" y="221" width="3" height="2" fill="#db00ff"/>
<rect x="377" y="215" width="3" height="4" fill="#db00ff"/>
<rect x="377" y="211" width="3" height="2" fill="#db00ff"/>
<rect x="377" y="204" width="3" height="1" fill="#db00ff"/>
<rect x="377" y="198" width="3" height="2" fill="#db00ff"/>
<rect x="377" y="192" width="3" height="2" fill="#db00ff"/>
<rect x="377" y="182" width="3" height="2" fill="#db00ff"/>
<rect x="380" y="271" width="4" height="2" fill="#db00ff"/>
<rect x="380" y="269" width="4" height="2" fill="#6300ff"/>
<rect x="380" y="267" width="4" height="2" fill="#00c5ff"/>
<rect x="380" y="265" width="4" height="2" fill="#006bff"/>
<rect x="380" y="263" width="4" height="2" fill="#0010ff"/>
<rect x="380" y="261" width="4" height="2" fill="#006bff"/>
<rect x="380" y="259" width="4" height="2" fill="#00ff2a"/>
<rect x="380" y="257" width="4" height="2" fill="#0010ff"/>
<rect x="380" y="253" width="4" height="4" fill="#db00ff"/>
<rect x="380" y="250" width="4" height="2" fill="#6300ff"/>
<rect x="380" y="246" width="4" height="2" fill="#db00ff"/>
<rect x="380" y="242" width="4" height="2" fill="#db00ff"/>
<rect x="380" y="238" width="4" height="2" fill="#db00ff"/>
<rect x="380" y="234" width="4" height="2" fill="#db00ff"/>
<rect x="380" y="230" width="4" height="2" fill="#db00ff"/>
<rect x="380" y="225" width="4" height="2" fill="#db00ff"/>
<rect x="380" y="219" width="4" height="4" fill="#db00ff"/>
<rect x="380" y="215" width="4" height="2" fill="#db00ff"/>
<rect x="380" y="209" width="4" height="2" fill="#db00ff"/>
<rect x="380" y="202" width="4" height="2" fill="#db00ff"/>
<rect x="380" y="196" width="4" height="2" fill="#db00ff"/>
<rect x="380" y="184" width="4" height="2" fill="#db00ff"/>
<rect x="384" y="276" width="3" height="2" fill="#db00ff"/>
<rect x="384" y="275" width="3" height="1" fill="#6300ff"/>
<rect x="384" y="269" width="3" height="6" fill="#006bff"/>
<rect x="384" y="265" width="3" height="4" fill="#00ffde"/>
<rect x="384" y="261" width="3" height="4" fill="#6300ff"/>
<rect x="384" y="259" width="3" height="2" fill="#db00ff"/>
<rect x="384" y="255" width="3" height="2" fill="#6300ff"/>
<rect x="384" y="252" width="3" height="1" fill="#db00ff"/>
<rect x="384" y="248" width="3" height="2" fill="#db00ff"/>
<rect x="384" y="244" width="3" height="2" fill="#db00ff"/>
<rect x="384" y="240" width="3" height="2" fill="#db00ff"/>
<rect x="384" y="236" width="3" height="2" fill="#db00ff"/>
<rect x="384" y="228" width="3" height="4" fill="#db00ff"/>
<rect x="384" y="225" width="3" height="2" fill="#db00ff"/>
<rect x="384" y="221" width="3" height="2" fill="#db00ff"/>
<rect x="384" y="213" width="3" height="2" fill="#db00ff"/>
<rect x="384" y="207" width="3" height="2" fill="#db00ff"/>
<rect x="384" y="202" width="3" height="2" fill="#db00ff"/>
<rect x="384" y="190" width="3" height="2" fill="#db00ff"/>
<rect x="387" y="282" width="4" height="2" fill="#6300ff"/>
<rect x="387" y="280" width="4" height="2" fill="#db00ff"/>
<rect x="387" y="278" width="4" height="2" fill="#006bff"/>
<rect x="387" y="276" width="4" height="2" fill="#00c5ff"/>
<rect x="387" y="275" width="4" height="1" fill="#006bff"/>
<rect x="387" y="271" width="4" height="4" fill="#00c5ff"/>
<rect x="387" y="269" width="4" height="2" fill="#0010ff"/>
<rect x="387" y="265" width="4" height="4" fill="#db00ff"/>
<rect x="387" y="263" width="4" height="2" fill="#6300ff"/>
<rect x="387" y="261" width="4" height="2" fill="#db00ff"/>
<rect x="387" y="257" width="4" height="2" fill="#db00ff"/>
<rect x="387" y="253" width="4" height="2" fill="#db00ff"/>
<rect x="387" y="250" width="4" height="2" fill="#db00ff"/>
<rect x="387" y="246" width="4" height="2" fill="#db00ff"/>
<rect x="387" y="242" width="4" height="2" fill="#db00ff"/>
<rect x="387" y="236" width="4" height="2" fill="#db00ff"/>
<rect x="387" y="232" width="4" height="2" fill="#db00ff"/>
<rect x="387" y="228" width="4" height="2" fill="#db00ff"/>
<rect x="387" y="225" width="4" height="2" fill="#db00ff"/>
<rect x="387" y="219" width="4" height="2" fill="#db00ff"/>
<rect x="387" y="213" width="4" height="2" fill="#db00ff"/>
<rect x="387" y="205" width="4" height="2" fill="#db00ff"/>
<rect x="387" y="192" width="4" height="2" fill="#db00ff"/>
<rect x="391" y="286" width="3" height="4" fill="#db00ff"/>
<rect x="391" y="284" width="3" height="2" fill="#6300ff"/>
<rect x="391" y="282" width="3" height="2" fill="#00ff84"/>
<rect x="391" y="280" width="3" height="2" fill="#6300ff"/>
<rect x="391" y="276" width="3" height="4" fill="#00ffde"/>
<rect x="391" y="275" width="3" height="1" fill="#0010ff"/>
<rect x="391" y="273" width="3" height="2" fill="#6300ff"/>
<rect x="391" y="263" width="3" height="10" fill="#db00ff"/>
<rect x="391" y="259" width="3" height="2" fill="#db00ff"/>
<rect x="391" y="255" width="3" height="2" fill="#db00ff"/>
<rect x="391" y="252" width="3" height="1" fill="#db00ff"/>
<rect x="391" y="248" width="3" height="2" fill="#db00ff"/>
<rect x="391" y="242" width="3" height="2" fill="#db00ff"/>
<rect x="391" y="238" width="3" height="2" fill="#db00ff"/>
<rect x="391" y="230" width="3" height="4" fill="#db00ff"/>
<rect x="391" y="225" width="3" height="2" fill="#db00ff"/>
<rect x="391" y="219" width="3" height="2" fill="#db00ff"/>
<rect x="391" y="211" width="3" height="2" fill="#db00ff"/>
<rect x="391" y="200" width="3" height="2" fill="#db00ff"/>
<rect x="394" y="290" width="4" height="2" fill="#db00ff"/>
<rect x="394" y="288" width="4" height="2" fill="#6300ff"/>
<rect x="394" y="286" width="4" height="2" fill="#00ff2a"/>
<rect x="394" y="284" width="4" height="2" fill="#0010ff"/>
<rect x="394" y="282" width="4" height="2" fill="#00ff84"/>
<rect x="394" y="280" width="4" height="2" fill="#00ffde"/>
<rect x="394" y="278" width="4" height="2" fill="#6300ff"/>
<rect x="394" y="275" width="4" height="1" fill="#0010ff"/>
<rect x="394" y="273" width="4" height="2" fill="#db00ff"/>
<rect x="394" y="267" width="4" height="4" fill="#db00ff"/>
<rect x="394" y="261" width="4" height="4" fill="#db00ff"/>
<rect x="394" y="255" width="4" height="2" fill="#db00ff"/>
<rect x="394" y="252" width="4" height="1" fill="#db00ff"/>
<rect x="394" y="246" width="4" height="2" fill="#db00ff"/>
<rect x="394" y="242" width="4" height="2" fill="#db00ff"/>
<rect x="394" y="238" width="4" height="2" fill="#db00ff"/>
<rect x="394" y="234" width="4" height="2" fill="#db00ff"/>
<rect x="394" y="230" width="4" height="2" fill="#db00ff"/>
<rect x="394" y="223" width="4" height="2" fill="#db00ff"/>
<rect x="394" y="217" width="4" height="2" fill="#db00ff"/>
<rect x="394" y="204" width="4" height="1" fill="#db00ff"/>
<rect x="398" y="292" width="3" height="2" fill="#db00ff"/>
<rect x="398" y="290" width="3" height="2" fill="#6300ff"/>
<rect x="398" y="288" width="3" height="2" fill="#00ffde"/>
<rect x="398" y="286" width="3" height="2" fill="#00ff84"/>
<rect x="398" y="284" width="3" height="2" fill="#006bff"/>
<rect x="398" y="282" width="3" height="2" fill="#00ff84"/>
<rect x="398" y="280" width="3" height="2" fill="#6300ff"/>
<rect x="398" y="278" width="3" height="2" fill="#db00ff"/>
<rect x="398" y="276" width="3" height="2" fill="#6300ff"/>
<rect x="398" y="275" width="3" height="1" fill="#db00ff"/>
<rect x="398" y="269" width="3" height="4" fill="#db00ff"/>
<rect x="398" y="263" width="3" height="4" fill="#db00ff"/>
<rect x="398" y="259" width="3" height="2" fill="#db00ff"/>
<rect x="398" y="255" width="3" height="2" fill="#db00ff"/>
<rect x="398" y="250" width="3" height="2" fill="#db00ff"/>
<rect x="398" y="246" width="3" height="2" fill="#db00ff"/>
<rect x="398" y="242" width="3" height="2" fill="#db00ff"/>
<rect x="398" y="238" width="3" height="2" fill="#db00ff"/>
<rect x="398" y="234" width="3" height="2" fill="#db00ff"/>
<rect x="398" y="228" width="3" height="2" fill="#db00ff"/>
<rect x="398" y="223" width="3" height="2" fill="#db00ff"/>
<rect x="398" y="205" width="3" height="2" fill="#db00ff"/>
<rect x="401" y="290" width="4" height="4" fill="#006bff"/>
<rect x="401" y="288" width="4" height="2" fill="#00ffde"/>
<rect x="401" y="286" width="4" height="2" fill="#00ff84"/>
<rect x="401" y="284" width="4" height="2" fill="#0010ff"/>
<rect x="401" y="282" width="4" height="2" fill="#006bff"/>
<rect x="401" y="280" width="4" height="2" fill="#db00ff"/>
<rect x="401" y="278" width="4" height="2" fill="#0010ff"/>
<rect x="401" y="275" width="4" height="1" fill="#6300ff"/>
<rect x="401" y="271" width="4" height="2" fill="#db00ff"/>
<rect x="401" y="265" width="4" height="4" fill="#db00ff"/>
<rect x="401" y="261" width="4" height="2" fill="#db00ff"/>
<rect x="401" y="257" width="4" height="2" fill="#db00ff"/>
<rect x="401" y="253" width="4" height="2" fill="#db00ff"/>
<rect x="401" y="250" width="4" height="2" fill="#db00ff"/>
<rect x="401" y="246" width="4" height="2" fill="#db00ff"/>
<rect x="401" y="242" width="4" height="2" fill="#db00ff"/>
<rect x="401" y="238" width="4" height="2" fill="#db00ff"/>
<rect x="401" y="230" width="4" height="2" fill="#db00ff"/>
<rect x="401" y="227" width="4" height="1" fill="#db00ff"/>
<rect x="401" y="209" width="4" height="2" fill="#db00ff"/>
<rect x="405" y="294" width="3" height="2" fill="#006bff"/>
<rect x="405" y="292" width="3" height="2" fill="#6300ff"/>
<rect x="405" y="290" width="3" height="2" fill="#00ffde"/>
<rect x="405" y="288" width="3" height="2" fill="#006bff"/>
<rect x="405" y="286" width="3" height="2" fill="#0010ff"/>
<rect x="405" y="284" width="3" height="2" fill="#00ff84"/>
<rect x="405" y="280" width="3" height="4" fill="#6300ff"/>
<rect x="405" y="278" width="3" height="2" fill="#db00ff"/>
<rect x="405" y="276" width="3" height="2" fill="#6300ff"/>
<rect x="405" y="269" width="3" height="6" fill="#db00ff"/>
<rect x="405" y="265" width="3" height="2" fill="#db00ff"/>
<rect x="405" y="261" width="3" height="2" fill="#db00ff"/>
<rect x="405" y="255" width="3" height="4" fill="#db00ff"/>
<rect x="405" y="248" width="3" height="4" fill="#db00ff"/>
<rect x="405" y="244" width="3" height="2" fill="#db00ff"/>
<rect x="405" y="238" width="3" height="2" fill="#db00ff"/>
<rect x="405" y="234" width="3" height="2" fill="#db00ff"/>
<rect x="405" y="228" width="3" height="2" fill="#db00ff"/>
<rect x="405" y="211" width="3" height="2" fill="#db00ff"/>
<rect x="408" y="294" width="3" height="2" fill="#00c5ff"/>
<rect x="408" y="290" width="3" height="4" fill="#006bff"/>
<rect x="408" y="288" width="3" height="2" fill="#00ffde"/>
<rect x="408" y="286" width="3" height="2" fill="#00c5ff"/>
<rect x="408" y="282" width="3" height="4" fill="#0010ff"/>
<rect x="408" y="280" width="3" height="2" fill="#db00ff"/>
<rect x="408" y="276" width="3" height="2" fill="#6300ff"/>
<rect x="408" y="271" width="3" height="5" fill="#db00ff"/>
<rect x="408" y="267" width="3" height="2" fill="#db00ff"/>
<rect x="408" y="263" width="3" height="2" fill="#db00ff"/>
<rect x="408" y="257" width="3" height="4" fill="#db00ff"/>
<rect x="408" y="253" width="3" height="2" fill="#db00ff"/>
<rect x="408" y="250" width="3" height="2" fill="#db00ff"/>
<rect x="408" y="246" width="3" height="2" fill="#db00ff"/>
<rect x="408" y="240" width="3" height="2" fill="#db00ff"/>
<rect x="408" y="236" width="3" height="2" fill="#db00ff"/>
<rect x="408" y="232" width="3" height="2" fill="#db00ff"/>
<rect x="408" y="215" width="3" height="2" fill="#db00ff"/>
<rect x="411" y="294" width="4" height="4" fill="#0010ff"/>
<rect x="411" y="292" width="4" height="2" fill="#00c5ff"/>
<rect x="411" y="290" width="4" height="2" fill="#00ff84"/>
<rect x="411" y="288" width="4" height="2" fill="#0010ff"/>
<rect x="411" y="286" width="4" height="2" fill="#00ffde"/>
<rect x="411" y="284" width="4" height="2" fill="#db00ff"/>
<rect x="411" y="282" width="4" height="2" fill="#6300ff"/>
<rect x="411" y="280" width="4" height="2" fill="#db00ff"/>
<rect x="411" y="278" width="4" height="2" fill="#6300ff"/>
<rect x="411" y="276" width="4" height="2" fill="#db00ff"/>
<rect x="411" y="269" width="4" height="6" fill="#db00ff"/>
<rect x="411" y="265" width="4" height="2" fill="#db00ff"/>
<rect x="411" y="257" width="4" height="4" fill="#db00ff"/>
<rect x="411" y="252" width="4" height="3" fill="#db00ff"/>
<rect x="411" y="248" width="4" height="2" fill="#db00ff"/>
<rect x="411" y="242" width="4" height="2" fill="#db00ff"/>
<rect x="411" y="238" width="4" height="2" fill="#db00ff"/>
<rect x="411" y="234" width="4" height="2" fill="#db00ff"/>
<rect x="411" y="215" width="4" height="2" fill="#db00ff"/>
<rect x="415" y="298" width="3" height="2" fill="#0010ff"/>
<rect x="415" y="296" width="3" height="2" fill="#db00ff"/>
<rect x="415" y="294" width="3" height="2" fill="#6300ff"/>
<rect x="415" y="292" width="3" height="2" fill="#00ff84"/>
<rect x="415" y="290" width="3" height="2" fill="#00c5ff"/>
<rect x="415" y="288" width="3" height="2" fill="#0010ff"/>
<rect x="415" y="286" width="3" height="2" fill="#00c5ff"/>
<rect x="415" y="284" width="3" height="2" fill="#6300ff"/>
<rect x="415" y="282" width="3" height="2" fill="#0010ff"/>
<rect x="415" y="280" width="3" height="2" fill="#6300ff"/>
<rect x="415" y="275" width="3" height="3" fill="#db00ff"/>
<rect x="415" y="269" width="3" height="4" fill="#db00ff"/>
<rect x="415" y="265" width="3" height="2" fill="#db00ff"/>
<rect x="415" y="259" width="3" height="4" fill="#db00ff"/>
<rect x="415" y="253" width="3" height="4" fill="#db00ff"/>
<rect x="415" y="250" width="3" height="2" fill="#db00ff"/>
<rect x="415" y="242" width="3" height="2" fill="#db00ff"/>
<rect x="415" y="236" width="3" height="4" fill="#db00ff"/>
<rect x="415" y="217" width="3" height="2" fill="#db00ff"/>
<rect x="418" y="298" width="4" height="2" fill="#6300ff"/>
<rect x="418" y="296" width="4" height="2" fill="#0010ff"/>
<rect x="418" y="294" width="4" height="2" fill="#db00ff"/>
<rect x="418" y="292" width="4" height="2" fill="#31ff00"/>
<rect x="418" y="288" width="4" height="4" fill="#0010ff"/>
<rect x="418" y="286" width="4" height="2" fill="#00c5ff"/>
<rect x="418" y="282" width="4" height="4" fill="#6300ff"/>
<rect x="418" y="280" width="4" height="2" fill="#0010ff"/>
<rect x="418" y="275" width="4" height="3" fill="#db00ff"/>
<rect x="418" y="269" width="4" height="4" fill="#db00ff"/>
<rect x="418" y="265" width="4" height="2" fill="#db00ff"/>
<rect x="418" y="259" width="4" height="4" fill="#db00ff"/>
<rect x="418" y="255" width="4" height="2" fill="#6300ff"/>
<rect x="418" y="252" width="4" height="1" fill="#db00ff"/>
<rect x="418" y="244" width="4" height="2" fill="#db00ff"/>
<rect x="418" y="238" width="4" height="4" fill="#db00ff"/>
<rect x="418" y="217" width="4" height="2" fill="#db00ff"/>
<rect x="422" y="298" width="3" height="2" fill="#6300ff"/>
<rect x="422" y="296" width="3" height="2" fill="#006bff"/>
<rect x="422" y="294" width="3" height="2" fill="#db00ff"/>
<rect x="422" y="290" width="3" height="4" fill="#00ffde"/>
<rect x="422" y="288" width="3" height="2" fill="#0010ff"/>
<rect x="422" y="286" width="3" height="2" fill="#006bff"/>
<rect x="422" y="284" width="3" height="2" fill="#6300ff"/>
<rect x="422" y="282" width="3" height="2" fill="#0010ff"/>
<rect x="422" y="280" width="3" height="2" fill="#db00ff"/>
<rect x="422" y="278" width="3" height="2" fill="#6300ff"/>
<rect x="422" y="275" width="3" height="1" fill="#db00ff"/>
<rect x="422" y="267" width="3" height="6" fill="#db00ff"/>
<rect x="422" y="261" width="3" height="2" fill="#6300ff"/>
<rect x="422" y="255" width="3" height="4" fill="#db00ff"/>
<rect x="422" y="252" width="3" height="1" fill="#db00ff"/>
<rect x="422" y="242" width="3" height="4" fill="#db00ff"/>
<rect x="422" y="238" width="3" height="2" fill="#db00ff"/>
<rect x="422" y="221" width="3" height="2" fill="#db00ff"/>
<rect x="425" y="296" width="4" height="4" fill="#6300ff"/>
<rect x="425" y="294" width="4" height="2" fill="#00c5ff"/>
<rect x="425" y="292" width="4" height="2" fill="#0010ff"/>
<rect x="425" y="290" width="4" height="2" fill="#00ff84"/>
<rect x="425" y="288" width="4" height="2" fill="#0010ff"/>
<rect x="425" y="286" width="4" height="2" fill="#006bff"/>
<rect x="425" y="284" width="4" height="2" fill="#0010ff"/>
<rect x="425" y="282" width="4" height="2" fill="#6300ff"/>
<rect x="425" y="278" width="4" height="2" fill="#0010ff"/>
<rect x="425" y="273" width="4" height="3" fill="#db00ff"/>
<rect x="425" y="267" width="4" height="4" fill="#db00ff"/>
<rect x="425" y="263" width="4" height="2" fill="#6300ff"/>
<rect x="425" y="255" width="4" height="4" fill="#db00ff"/>
<rect x="425" y="252" width="4" height="1" fill="#db00ff"/>
<rect x="425" y="244" width="4" height="4" fill="#db00ff"/>
<rect x="425" y="240" width="4" height="2" fill="#db00ff"/>
<rect x="425" y="225" width="4" height="2" fill="#db00ff"/>
<rect x="429" y="298" width="3" height="3" fill="#db00ff"/>
<rect x="429" y="294" width="3" height="4" fill="#006bff"/>
<rect x="429" y="290" width="3" height="4" fill="#00c5ff"/>
<rect x="429" y="288" width="3" height="2" fill="#006bff"/>
<rect x="429" y="284" width="3" height="4" fill="#0010ff"/>
<rect x="429" y="282" width="3" height="2" fill="#6300ff"/>
<rect x="429" y="280" width="3" height="2" fill="#db00ff"/>
<rect x="429" y="278" width="3" height="2" fill="#6300ff"/>
<rect x="429" y="275" width="3" height="1" fill="#db00ff"/>
<rect x="429" y="269" width="3" height="4" fill="#db00ff"/>
<rect x="429" y="265" width="3" height="2" fill="#db00ff"/>
<rect x="429" y="261" width="3" height="2" fill="#6300ff"/>
<rect x="429" y="255" width="3" height="4" fill="#db00ff"/>
<rect x="429" y="250" width="3" height="2" fill="#db00ff"/>
<rect x="429" y="246" width="3" height="2" fill="#db00ff"/>
<rect x="429" y="242" width="3" height="2" fill="#db00ff"/>
<rect x="429" y="228" width="3" height="2" fill="#db00ff"/>
<rect x="432" y="298" width="4" height="2" fill="#6300ff"/>
<rect x="432" y="296" width="4" height="2" fill="#0010ff"/>
<rect x="432" y="292" width="4" height="4" fill="#006bff"/>
<rect x="432" y="290" width="4" height="2" fill="#00ff2a"/>
<rect x="432" y="288" width="4" height="2" fill="#0010ff"/>
<rect x="432" y="286" width="4" height="2" fill="#006bff"/>
<rect x="432" y="282" width="4" height="4" fill="#db00ff"/>
<rect x="432" y="280" width="4" height="2" fill="#0010ff"/>
<rect x="432" y="278" width="4" height="2" fill="#6300ff"/>
<rect x="432" y="273" width="4" height="3" fill="#db00ff"/>
<rect x="432" y="269" width="4" height="2" fill="#db00ff"/>
<rect x="432" y="261" width="4" height="6" fill="#db00ff"/>
<rect x="432" y="255" width="4" height="4" fill="#db00ff"/>
<rect x="432" y="252" width="4" height="1" fill="#db00ff"/>
<rect x="432" y="244" width="4" height="4" fill="#db00ff"/>
<rect x="432" y="230" width="4" height="2" fill="#db00ff"/>
<rect x="436" y="298" width="3" height="2" fill="#db00ff"/>
<rect x="436" y="296" width="3" height="2" fill="#6300ff"/>
<rect x="436" y="294" width="3" height="2" fill="#00ffde"/>
<rect x="436" y="292" width="3" height="2" fill="#6300ff"/>
<rect x="436" y="290" width="3" height="2" fill="#00ff84"/>
<rect x="436" y="288" width="3" height="2" fill="#00ffde"/>
<rect x="436" y="284" width="3" height="4" fill="#0010ff"/>
<rect x="436" y="280" width="3" height="2" fill="#0010ff"/>
<rect x="436" y="273" width="3" height="7" fill="#db00ff"/>
<rect x="436" y="267" width="3" height="4" fill="#db00ff"/>
<rect x="436" y="259" width="3" height="6" fill="#db00ff"/>
<rect x="436" y="253" width="3" height="4" fill="#db00ff"/>
<rect x="436" y="250" width="3" height="2" fill="#db00ff"/>
<rect x="436" y="246" width="3" height="2" fill="#db00ff"/>
<rect x="436" y="234" width="3" height="2" fill="#db00ff"/>
<rect x="439" y="298" width="4" height="2" fill="#db00ff"/>
<rect x="439" y="296" width="4" height="2" fill="#6300ff"/>
<rect x="439" y="294" width="4" height="2" fill="#006bff"/>
<rect x="439" y="292" width="4" height="2" fill="#00ffde"/>
<rect x="439" y="290" width="4" height="2" fill="#006bff"/>
<rect x="439" y="288" width="4" height="2" fill="#00ffde"/>
<rect x="439" y="286" width="4" height="2" fill="#006bff"/>
<rect x="439" y="284" width="4" height="2" fill="#6300ff"/>
<rect x="439" y="280" width="4" height="2" fill="#0010ff"/>
<rect x="439" y="278" width="4" height="2" fill="#db00ff"/>
<rect x="439" y="276" width="4" height="2" fill="#6300ff"/>
<rect x="439" y="263" width="4" height="10" fill="#db00ff"/>
<rect x="439" y="257" width="4" height="4" fill="#db00ff"/>
<rect x="439" y="253" width="4" height="2" fill="#db00ff"/>
<rect x="439" y="250" width="4" height="2" fill="#db00ff"/>
<rect x="439" y="246" width="4" height="2" fill="#6300ff"/>
<rect x="439" y="238" width="4" height="2" fill="#db00ff"/>
<rect x="443" y="296" width="3" height="4" fill="#db00ff"/>
<rect x="443" y="294" width="3" height="2" fill="#006bff"/>
<rect x="443" y="292" width="3" height="2" fill="#00ff84"/>
<rect x="443" y="290" width="3" height="2" fill="#006bff"/>
<rect x="443" y="288" width="3" height="2" fill="#00ffde"/>
<rect x="443" y="284" width="3" height="4" fill="#0010ff"/>
<rect x="443" y="280" width="3" height="4" fill="#db00ff"/>
<rect x="443" y="276" width="3" height="4" fill="#6300ff"/>
<rect x="443" y="271" width="3" height="2" fill="#6300ff"/>
<rect x="443" y="267" width="3" height="2" fill="#db00ff"/>
<rect x="443" y="265" width="3" height="2" fill="#6300ff"/>
<rect x="443" y="259" width="3" height="2" fill="#6300ff"/>
<rect x="443" y="255" width="3" height="2" fill="#db00ff"/>
<rect x="443" y="250" width="3" height="2" fill="#db00ff"/>
<rect x="443" y="248" width="3" height="2" fill="#6300ff"/>
<rect x="443" y="240" width="3" height="2" fill="#db00ff"/>
<rect x="446" y="296" width="4" height="2" fill="#db00ff"/>
<rect x="446" y="294" width="4" height="2" fill="#006bff"/>
<rect x="446" y="292" width="4" height="2" fill="#00ffde"/>
<rect x="446" y="290" width="4" height="2" fill="#006bff"/>
<rect x="446" y="288" width="4" height="2" fill="#00ffde"/>
<rect x="446" y="286" width="4" height="2" fill="#006bff"/>
<rect x="446" y="284" width="4" height="2" fill="#0010ff"/>
<rect x="446" y="278" width="4" height="4" fill="#6300ff"/>
<rect x="446" y="271" width="4" height="7" fill="#db00ff"/>
<rect x="446" y="267" width="4" height="2" fill="#db00ff"/>
<rect x="446" y="265" width="4" height="2" fill="#6300ff"/>
<rect x="446" y="255" width="4" height="6" fill="#db00ff"/>
<rect x="446" y="252" width="4" height="1" fill="#6300ff"/>
<rect x="446" y="248" width="4" height="4" fill="#db00ff"/>
<rect x="446" y="244" width="4" height="2" fill="#db00ff"/>
<rect x="450" y="296" width="3" height="2" fill="#db00ff"/>
<rect x="450" y="294" width="3" height="2" fill="#6300ff"/>
<rect x="450" y="292" width="3" height="2" fill="#0010ff"/>
<rect x="450" y="290" width="3" height="2" fill="#00c5ff"/>
<rect x="450" y="288" width="3" height="2" fill="#31ff00"/>
<rect x="450" y="286" width="3" height="2" fill="#00c5ff"/>
<rect x="450" y="280" width="3" height="6" fill="#006bff"/>
<rect x="450" y="273" width="3" height="2" fill="#db00ff"/>
<rect x="450" y="263" width="3" height="6" fill="#db00ff"/>
<rect x="450" y="261" width="3" height="2" fill="#6300ff"/>
<rect x="450" y="259" width="3" height="2" fill="#db00ff"/>
<rect x="450" y="252" width="3" height="1" fill="#db00ff"/>
<rect x="450" y="248" width="3" height="2" fill="#6300ff"/>
<rect x="453" y="296" width="4" height="2" fill="#db00ff"/>
<rect x="453" y="294" width="4" height="2" fill="#6300ff"/>
<rect x="453" y="292" width="4" height="2" fill="#0010ff"/>
<rect x="453" y="290" width="4" height="2" fill="#00c5ff"/>
<rect x="453" y="288" width="4" height="2" fill="#31ff00"/>
<rect x="453" y="286" width="4" height="2" fill="#00c5ff"/>
<rect x="453" y="280" width="4" height="6" fill="#006bff"/>
<rect x="453" y="273" width="4" height="2" fill="#db00ff"/>
<rect x="453" y="263" width="4" height="6" fill="#db00ff"/>
<rect x="453" y="261" width="4" height="2" fill="#6300ff"/>
<rect x="453" y="259" width="4" height="2" fill="#db00ff"/>
<rect x="453" y="252" width="4" height="1" fill="#db00ff"/>
<rect x="453" y="248" width="4" height="2" fill="#6300ff"/>
<rect x="457" y="294" width="3" height="2" fill="#6300ff"/>
<rect x="457" y="292" width="3" height="2" fill="#db00ff"/>
<rect x="457" y="290" width="3" height="2" fill="#006bff"/>
<rect x="457" y="288" width="3" height="2" fill="#00ff2a"/>
<rect x="457" y="286" width="3" height="2" fill="#00c5ff"/>
<rect x="457" y="280" width="3" height="6" fill="#006bff"/>
<rect x="457" y="267" width="3" height="9" fill="#db00ff"/>
<rect x="457" y="265" width="3" height="2" fill="#6300ff"/>
<rect x="457" y="259" width="3" height="2" fill="#db00ff"/>
<rect x="457" y="257" width="3" height="2" fill="#6300ff"/>
<rect x="457" y="255" width="3" height="2" fill="#0010ff"/>
<rect x="457" y="253" width="3" height="2" fill="#6300ff"/>
<rect x="460" y="294" width="3" height="2" fill="#6300ff"/>
<rect x="460" y="292" width="3" height="2" fill="#db00ff"/>
<rect x="460" y="290" width="3" height="2" fill="#006bff"/>
<rect x="460" y="288" width="3" height="2" fill="#00ff2a"/>
<rect x="460" y="286" width="3" height="2" fill="#00c5ff"/>
<rect x="460" y="280" width="3" height="6" fill="#006bff"/>
<rect x="460" y="267" width="3" height="9" fill="#db00ff"/>
<rect x="460" y="265" width="3" height="2" fill="#6300ff"/>
<rect x="460" y="259" width="3" height="2" fill="#db00ff"/>
<rect x="460" y="257" width="3" height="2" fill="#6300ff"/>
<rect x="460" y="255" width="3" height="2" fill="#0010ff"/>
<rect x="460" y="253" width="3" height="2" fill="#6300ff"/>
<rect x="463" y="290" width="4" height="2" fill="#0010ff"/>
<rect x="463" y="288" width="4" height="2" fill="#00c5ff"/>
<rect x="463" y="286" width="4" height="2" fill="#00ffde"/>
<rect x="463" y="284" width="4" height="2" fill="#00ff2a"/>
<rect x="463" y="280" width="4" height="4" fill="#006bff"/>
<rect x="463" y="278" width="4" height="2" fill="#0010ff"/>
<rect x="463" y="275" width="4" height="3" fill="#6300ff"/>
<rect x="463" y="269" width="4" height="4" fill="#db00ff"/>
<rect x="463" y="257" width="4" height="2" fill="#db00ff"/>
<rect x="463" y="253" width="4" height="2" fill="#0010ff"/>
<rect x="463" y="250" width="4" height="3" fill="#6300ff"/>
<rect x="467" y="290" width="3" height="2" fill="#0010ff"/>
<rect x="467" y="288" width="3" height="2" fill="#00c5ff"/>
<rect x="467" y="286" width="3" height="2" fill="#00ffde"/>
<rect x="467" y="284" width="3" height="2" fill="#00ff2a"/>
<rect x="467" y="280" width="3" height="4" fill="#006bff"/>
<rect x="467" y="278" width="3" height="2" fill="#0010ff"/>
<rect x="467" y="275" width="3" height="3" fill="#6300ff"/>
<rect x="467" y="269" width="3" height="4" fill="#db00ff"/>
<rect x="467" y="257" width="3" height="2" fill="#db00ff"/>
<rect x="467" y="253" width="3" height="2" fill="#0010ff"/>
<rect x="467" y="250" width="3" height="3" fill="#6300ff"/>
<rect x="470" y="288" width="4" height="2" fill="#db00ff"/>
<rect x="470" y="286" width="4" height="2" fill="#6300ff"/>
<rect x="470" y="284" width="4" height="2" fill="#00c5ff"/>
<rect x="470" y="282" width="4" height="2" fill="#00ffde"/>
<rect x="470" y="278" width="4" height="4" fill="#00ff2a"/>
<rect x="470" y="276" width="4" height="2" fill="#0010ff"/>
<rect x="470" y="273" width="4" height="2" fill="#0010ff"/>
<rect x="470" y="269" width="4" height="2" fill="#db00ff"/>
<rect x="470" y="259" width="4" height="4" fill="#6300ff"/>
<rect x="470" y="252" width="4" height="1" fill="#db00ff"/>
<rect x="470" y="250" width="4" height="2" fill="#6300ff"/>
<rect x="470" y="248" width="4" height="2" fill="#0010ff"/>
<rect x="474" y="288" width="3" height="2" fill="#db00ff"/>
<rect x="474" y="286" width="3" height="2" fill="#6300ff"/>
<rect x="474" y="284" width="3" height="2" fill="#00c5ff"/>
<rect x="474" y="282" width="3" height="2" fill="#00ffde"/>
<rect x="474" y="278" width="3" height="4" fill="#00ff2a"/>
<rect x="474" y="276" width="3" height="2" fill="#0010ff"/>
<rect x="474" y="273" width="3" height="2" fill="#0010ff"/>
<rect x="474" y="269" width="3" height="2" fill="#db00ff"/>
<rect x="474" y="259" width="3" height="4" fill="#6300ff"/>
<rect x="474" y="252" width="3" height="1" fill="#db00ff"/>
<rect x="474" y="250" width="3" height="2" fill="#6300ff"/>
<rect x="474" y="248" width="3" height="2" fill="#0010ff"/>
<rect x="477" y="284" width="4" height="2" fill="#6300ff"/>
<rect x="477" y="282" width="4" height="2" fill="#0010ff"/>
<rect x="477" y="278" width="4" height="4" fill="#00ff2a"/>
<rect x="477" y="276" width="4" height="2" fill="#00ffde"/>
<rect x="477" y="275" width="4" height="1" fill="#0010ff"/>
<rect x="477" y="271" width="4" height="4" fill="#db00ff"/>
<rect x="477" y="269" width="4" height="2" fill="#0010ff"/>
<rect x="477" y="267" width="4" height="2" fill="#6300ff"/>
<rect x="477" y="259" width="4" height="4" fill="#6300ff"/>
<rect x="477" y="257" width="4" height="2" fill="#db00ff"/>
<rect x="477" y="244" width="4" height="2" fill="#db00ff"/>
<rect x="477" y="242" width="4" height="2" fill="#0010ff"/>
<rect x="477" y="240" width="4" height="2" fill="#db00ff"/>
<rect x="481" y="284" width="3" height="2" fill="#6300ff"/>
<rect x="481" y="282" width="3" height="2" fill="#0010ff"/>
<rect x="481" y="278" width="3" height="4" fill="#00ff2a"/>
<rect x="481" y="276" width="3" height="2" fill="#00ffde"/>
<rect x="481" y="275" width="3" height="1" fill="#0010ff"/>
<rect x="481" y="271" width="3" height="4" fill="#db00ff"/>
<rect x="481" y="269" width="3" height="2" fill="#0010ff"/>
<rect x="481" y="267" width="3" height="2" fill="#6300ff"/>
<rect x="481" y="259" width="3" height="4" fill="#6300ff"/>
<rect x="481" y="257" width="3" height="2" fill="#db00ff"/>
<rect x="481" y="244" width="3" height="2" fill="#db00ff"/>
<rect x="481" y="242" width="3" height="2" fill="#0010ff"/>
<rect x="481" y="240" width="3" height="2" fill="#db00ff"/>
<rect x="484" y="284" width="4" height="2" fill="#6300ff"/>
<rect x="484" y="282" width="4" height="2" fill="#0010ff"/>
<rect x="484" y="278" width="4" height="4" fill="#00ff2a"/>
<rect x="484" y="276" width="4" height="2" fill="#00ffde"/>
<rect x="484" y="275" width="4" height="1" fill="#0010ff"/>
<rect x="484" y="271" width="4" height="4" fill="#db00ff"/>
<rect x="484" y="269" width="4" height="2" fill="#0010ff"/>
<rect x="484" y="267" width="4" height="2" fill="#6300ff"/>
<rect x="484" y="259" width="4" height="4" fill="#6300ff"/>
<rect x="484" y="257" width="4" height="2" fill="#db00ff"/>
<rect x="484" y="244" width="4" height="2" fill="#db00ff"/>
<rect x="484" y="242" width="4" height="2" fill="#0010ff"/>
<rect x="484" y="240" width="4" height="2" fill="#db00ff"/>
<rect x="488" y="284" width="3" height="2" fill="#6300ff"/>
<rect x="488" y="282" width="3" height="2" fill="#0010ff"/>
<rect x="488" y="278" width="3" height="4" fill="#00ff2a"/>
<rect x="488" y="276" width="3" height="2" fill="#00ffde"/>
<rect x="488" y="275" width="3" height="1" fill="#0010ff"/>
<rect x="488" y="271" width="3" height="4" fill="#db00ff"/>
<rect x="488" y="269" width="3" height="2" fill="#0010ff"/>
<rect x="488" y="267" width="3" height="2" fill="#6300ff"/>
<rect x="488" y="259" width="3" height="4" fill="#6300ff"/>
<rect x="488" y="257" width="3" height="2" fill="#db00ff"/>
<rect x="488" y="244" width="3" height="2" fill="#db00ff"/>
<rect x="488" y="242" width="3" height="2" fill="#0010ff"/>
<rect x="488" y="240" width="3" height="2" fill="#db00ff"/>
<rect x="491" y="280" width="4" height="2" fill="#6300ff"/>
<rect x="491" y="278" width="4" height="2" fill="#0010ff"/>
<rect x="491" y="275" width="4" height="3" fill="#00ff2a"/>
<rect x="491" y="273" width="4" height="2" fill="#00ffde"/>
<rect x="491" y="271" width="4" height="2" fill="#006bff"/>
<rect x="491" y="263" width="4" height="8" fill="#6300ff"/>
<rect x="491" y="261" width="4" height="2" fill="#db00ff"/>
<rect x="491" y="252" width="4" height="3" fill="#db00ff"/>
<rect x="491" y="240" width="4" height="2" fill="#db00ff"/>
<rect x="491" y="238" width="4" height="2" fill="#006bff"/>
<rect x="495" y="280" width="3" height="2" fill="#6300ff"/>
<rect x="495" y="278" width="3" height="2" fill="#0010ff"/>
<rect x="495" y="275" width="3" height="3" fill="#00ff2a"/>
<rect x="495" y="273" width="3" height="2" fill="#00ffde"/>
<rect x="495" y="271" width="3" height="2" fill="#006bff"/>
<rect x="495" y="263" width="3" height="8" fill="#6300ff"/>
<rect x="495" y="261" width="3" height="2" fill="#db00ff"/>
<rect x="495" y="252" width="3" height="3" fill="#db00ff"/>
<rect x="495" y="240" width="3" height="2" fill="#db00ff"/>
<rect x="495" y="238" width="3" height="2" fill="#006bff"/>
<rect x="498" y="280" width="4" height="2" fill="#6300ff"/>
<rect x="498" y="278" width="4" height="2" fill="#0010ff"/>
<rect x="498" y="275" width="4" height="3" fill="#00ff2a"/>
<rect x="498" y="273" width="4" height="2" fill="#00ffde"/>
<rect x="498" y="271" width="4" height="2" fill="#006bff"/>
<rect x="498" y="263" width="4" height="8" fill="#6300ff"/>
<rect x="498" y="261" width="4" height="2" fill="#db00ff"/>
<rect x="498" y="252" width="4" height="3" fill="#db00ff"/>
<rect x="498" y="240" width="4" height="2" fill="#db00ff"/>
<rect x="498" y="238" width="4" height="2" fill="#006bff"/>
<rect x="502" y="280" width="3" height="2" fill="#6300ff"/>
<rect x="502" y="278" width="3" height="2" fill="#0010ff"/>
<rect x="502" y="275" width="3" height="3" fill="#00ff2a"/>
<rect x="502" y="273" width="3" height="2" fill="#00ffde"/>
<rect x="502" y="271" width="3" height="2" fill="#006bff"/>
<rect x="502" y="263" width="3" height="8" fill="#6300ff"/>
<rect x="502" y="261" width="3" height="2" fill="#db00ff"/>
<rect x="502" y="252" width="3" height="3" fill="#db00ff"/>
<rect x="502" y="240" width="3" height="2" fill="#db00ff"/>
<rect x="502" y="238" width="3" height="2" fill="#006bff"/>
<rect x="505" y="265" width="4" height="2" fill="#00ffde"/>
<rect x="505" y="263" width="4" height="2" fill="#0010ff"/>
<rect x="505" y="261" width="4" height="2" fill="#8bff00"/>
<rect x="505" y="259" width="4" height="2" fill="#006bff"/>
<rect x="505" y="257" width="4" height="2" fill="#00ff2a"/>
<rect x="505" y="255" width="4" height="2" fill="#0010ff"/>
<rect x="505" y="252" width="4" height="3" fill="#db00ff"/>
<rect x="505" y="248" width="4" height="2" fill="#db00ff"/>
<rect x="505" y="244" width="4" height="2" fill="#db00ff"/>
<rect x="505" y="242" width="4" height="2" fill="#6300ff"/>
<rect x="505" y="230" width="4" height="6" fill="#db00ff"/>
<rect x="505" y="227" width="4" height="3" fill="#6300ff"/>
<rect x="509" y="265" width="3" height="2" fill="#00ffde"/>
<rect x="509" y="263" width="3" height="2" fill="#0010ff"/>
<rect x="509" y="261" width="3" height="2" fill="#8bff00"/>
<rect x="509" y="259" width="3" height="2" fill="#006bff"/>
<rect x="509" y="257" width="3" height="2" fill="#00ff2a"/>
<rect x="509" y="255" width="3" height="2" fill="#0010ff"/>
<rect x="509" y="252" width="3" height="3" fill="#db00ff"/>
<rect x="509" y="248" width="3" height="2" fill="#db00ff"/>
<rect x="509" y="244" width="3" height="2" fill="#db00ff"/>
<rect x="509" y="242" width="3" height="2" fill="#6300ff"/>
<rect x="509" y="230" width="3" height="6" fill="#db00ff"/>
<rect x="509" y="227" width="3" height="3" fill="#6300ff"/>
<rect x="512" y="265" width="3" height="2" fill="#00ffde"/>
<rect x="512" y="263" width="3" height="2" fill="#0010ff"/>
<rect x="512" y="261" width="3" height="2" fill="#8bff00"/>
<rect x="512" y="259" width="3" height="2" fill="#006bff"/>
<rect x="512" y="257" width="3" height="2" fill="#00ff2a"/>
<rect x="512" y="255" width="3" height="2" fill="#0010ff"/>
<rect x="512" y="252" width="3" height="3" fill="#db00ff"/>
<rect x="512" y="248" width="3" height="2" fill="#db00ff"/>
<rect x="512" y="244" width="3" height="2" fill="#db00ff"/>
<rect x="512" y="242" width="3" height="2" fill="#6300ff"/>
<rect x="512" y="230" width="3" height="6" fill="#db00ff"/>
<rect x="512" y="227" width="3" height="3" fill="#6300ff"/>
<rect x="515" y="265" width="4" height="2" fill="#00ffde"/>
<rect x="515" y="263" width="4" height="2" fill="#0010ff"/>
<rect x="515" y="261" width="4" height="2" fill="#8bff00"/>
<rect x="515" y="259" width="4" height="2" fill="#006bff"/>
<rect x="515" y="257" width="4" height="2" fill="#00ff2a"/>
<rect x="515" y="255" width="4" height="2" fill="#0010ff"/>
<rect x="515" y="252" width="4" height="3" fill="#db00ff"/>
<rect x="515" y="248" width="4" height="2" fill="#db00ff"/>
<rect x="515" y="244" width="4" height="2" fill="#db00ff"/>
<rect x="515" y="242" width="4" height="2" fill="#6300ff"/>
<rect x="515" y="230" width="4" height="6" fill="#db00ff"/>
<rect x="515" y="227" width="4" height="3" fill="#6300ff"/>
<rect x="519" y="265" width="3" height="2" fill="#00ffde"/>
<rect x="519" y="263" width="3" height="2" fill="#0010ff"/>
<rect x="519" y="261" width="3" height="2" fill="#8bff00"/>
<rect x="519" y="259" width="3" height="2" fill="#006bff"/>
<rect x="519" y="257" width="3" height="2" fill="#00ff2a"/>
<rect x="519" y="255" width="3" height="2" fill="#0010ff"/>
<rect x="519" y="252" width="3" height="3" fill="#db00ff"/>
<rect x="519" y="248" width="3" height="2" fill="#db00ff"/>
<rect x="519" y="244" width="3" height="2" fill="#db00ff"/>
<rect x="519" y="242" width="3" height="2" fill="#6300ff"/>
<rect x="519" y="230" width="3" height="6" fill="#db00ff"/>
<rect x="519" y="227" width="3" height="3" fill="#6300ff"/>
</g>
<g stroke="#b0b0b0" stroke-width="1" shape-rendering="crispEdges">
<line x1="105.5" y1="49" x2="105.5" y2="336" />
<line x1="121.5" y1="49" x2="121.5" y2="336" />
<line x1="132.5" y1="49" x2="132.5" y2="336" />
<line x1="141.5" y1="49" x2="141.5" y2="336" />
<line x1="149.5" y1="49" x2="149.5" y2="336" />
<line x1="155.5" y1="49" x2="155.5" y2="336" />
<line x1="160.5" y1="49" x2="160.5" y2="336" />
<line x1="165.5" y1="49" x2="165.5" y2="336" />
<line x1="169.5" y1="49" x2="169.5" y2="336" />
<line x1="197.5" y1="49" x2="197.5" y2="336" />
<line x1="213.5" y1="49" x2="213.5" y2="336" />
<line x1="224.5" y1="49" x2="224.5" y2="336" />
<line x1="233.5" y1="49" x2="233.5" y2="336" />
<line x1="241.5" y1="49" x2="241.5" y2="336" />
<line x1="247.5" y1="49" x2="247.5" y2="336" />
<line x1="252.5" y1="49" x2="252.5" y2="336" />
<line x1="257.5" y1="49" x2="257.5" y2="336" />
<line x1="261.5" y1="49" x2="261.5" y2="336" />
<line x1="289.5" y1="49" x2="289.5" y2="336" />
<line x1="305.5" y1="49" x2="305.5" y2="336" />
<line x1="317.5" y1="49" x2="317.5" y2="336" />
<line x1="326.5" y1="49" x2="326.5" y2="336" />
<line x1="333.5" y1="49" x2="333.5" y2="336" />
<line x1="339.5" y1="49" x2="339.5" y2="336" />
<line x1="344.5" y1="49" x2="344.5" y2="336" />
<line x1="349.5" y1="49" x2="349.5" y2="336" />
<line x1="353.5" y1="49" x2="353.5" y2="336" />
<line x1="381.5" y1="49" x2="381.5" y2="336" />
<line x1="397.5" y1="49" x2="397.5" y2="336" />
<line x1="409.5" y1="49" x2="409.5" y2="336" />
<line x1="418.5" y1="49" x2="418.5" y2="336" />
<line x1="425.5" y1="49" x2="425.5" y2="336" />
<line x1="431.5" y1="49" x2="431.5" y2="336" />
<line x1="437.5" y1="49" x2="437.5" y2="336" />
<line x1="441.5" y1="49" x2="441.5" y2="336" />
<line x1="445.5" y1="49" x2="445.5" y2="336" />
<line x1="473.5" y1="49" x2="473.5" y2="336" />
<line x1="489.5" y1="49" x2="489.5" y2="336" />
<line x1="501.5" y1="49" x2="501.5" y2="336" />
<line x1="510.5" y1="49" x2="510.5" y2="336" />
<line x1="517.5" y1="49" x2="517.5" y2="336" />
<line x1="523.5" y1="49" x2="523.5" y2="336" />
<line x1="529.5" y1="49" x2="529.5" y2="336" />
<line x1="533.5" y1="49" x2="533.5" y2="336" />
<line x1="78" y1="298.5" x2="538" y2="298.5" />
<line x1="78" y1="259.5" x2="538" y2="259.5" />
<line x1="78" y1="221.5" x2="538" y2="221.5" />
<line x1="78" y1="182.5" x2="538" y2="182.5" />
<line x1="78" y1="144.5" x2="538" y2="144.5" />
<line x1="78" y1="106.5" x2="538" y2="106.5" />
<line x1="78" y1="67.5" x2="538" y2="67.5" />
</g>
<clipPath id="axclip"><rect x="77.3" y="48.5" width="460.8" height="288"/></clipPath>
<g clip-path="url(#axclip)" fill="none" stroke="#666666" stroke-width="2.78" stroke-linejoin="round" stroke-linecap="butt">
<polyline points="168.96,127.68 200.52,139.01 215.51,164.16 252.19,182.40 314.55,140.16 322.20,137.28 334.79,145.92 343.85,169.92 370.56,182.40 381.02,217.92 496.13,193.92 537.60,166.60"/>
<polyline points="168.96,274.56 190.20,272.06 224.45,272.06 252.19,276.86 269.73,266.30 296.16,237.41 319.50,222.91 325.54,222.91 332.83,238.08 353.28,266.40 360.58,271.20 371.08,263.23 384.66,292.80 399.33,307.20 413.48,312.00 431.16,312.00 445.84,307.20 462.72,307.20 492.98,312.00 517.15,306.05 537.60,294.72"/>
</g>
<polyline fill="none" stroke="#000" stroke-width="2.15" stroke-linejoin="round" points="103.75,225.60 108.75,220.00 113.75,216.90 118.75,215.00 120.60,213.10 124.40,203.75 126.90,202.75 132.50,203.50 141.25,205.60 150.00,208.10 157.50,210.60 165.00,214.40 172.50,220.00 182.00,225.00 195.00,235.00 207.50,240.00 220.00,246.90 232.50,252.50 240.00,254.60 249.40,254.10 258.75,251.25 268.10,244.70 277.50,236.25 286.90,228.75 296.25,222.20 305.60,215.60 312.00,210.50 318.00,205.00 324.00,198.70 330.00,194.20 333.50,192.60 336.50,192.00 340.00,193.00 344.00,196.00 350.00,205.00 356.00,216.00 360.00,222.50 366.25,229.00 377.50,240.00 390.00,255.00 396.00,267.50 405.00,273.75 415.00,278.00 420.00,279.40 440.00,280.00 460.00,278.75 470.00,277.50 477.00,275.00 480.00,273.00 491.25,272.50 493.75,269.50 502.50,268.75 506.25,256.25 508.75,255.00 521.25,255.00"/>
<g stroke="#000" stroke-width="1" shape-rendering="crispEdges" fill="none">
<rect x="77.5" y="48.5" width="461" height="288"/>
<line x1="77.5" y1="337" x2="77.5" y2="341.6" shape-rendering="auto"/>
<line x1="105.5" y1="337" x2="105.5" y2="339.5" shape-rendering="auto"/>
<line x1="121.5" y1="337" x2="121.5" y2="339.5" shape-rendering="auto"/>
<line x1="132.5" y1="337" x2="132.5" y2="339.5" shape-rendering="auto"/>
<line x1="141.5" y1="337" x2="141.5" y2="339.5" shape-rendering="auto"/>
<line x1="149.5" y1="337" x2="149.5" y2="339.5" shape-rendering="auto"/>
<line x1="155.5" y1="337" x2="155.5" y2="339.5" shape-rendering="auto"/>
<line x1="160.5" y1="337" x2="160.5" y2="339.5" shape-rendering="auto"/>
<line x1="165.5" y1="337" x2="165.5" y2="339.5" shape-rendering="auto"/>
<line x1="169.5" y1="337" x2="169.5" y2="341.6" shape-rendering="auto"/>
<line x1="197.5" y1="337" x2="197.5" y2="339.5" shape-rendering="auto"/>
<line x1="213.5" y1="337" x2="213.5" y2="339.5" shape-rendering="auto"/>
<line x1="224.5" y1="337" x2="224.5" y2="339.5" shape-rendering="auto"/>
<line x1="233.5" y1="337" x2="233.5" y2="339.5" shape-rendering="auto"/>
<line x1="241.5" y1="337" x2="241.5" y2="339.5" shape-rendering="auto"/>
<line x1="247.5" y1="337" x2="247.5" y2="339.5" shape-rendering="auto"/>
<line x1="252.5" y1="337" x2="252.5" y2="339.5" shape-rendering="auto"/>
<line x1="257.5" y1="337" x2="257.5" y2="339.5" shape-rendering="auto"/>
<line x1="261.5" y1="337" x2="261.5" y2="341.6" shape-rendering="auto"/>
<line x1="289.5" y1="337" x2="289.5" y2="339.5" shape-rendering="auto"/>
<line x1="305.5" y1="337" x2="305.5" y2="339.5" shape-rendering="auto"/>
<line x1="317.5" y1="337" x2="317.5" y2="339.5" shape-rendering="auto"/>
<line x1="326.5" y1="337" x2="326.5" y2="339.5" shape-rendering="auto"/>
<line x1="333.5" y1="337" x2="333.5" y2="339.5" shape-rendering="auto"/>
<line x1="339.5" y1="337" x2="339.5" y2="339.5" shape-rendering="auto"/>
<line x1="344.5" y1="337" x2="344.5" y2="339.5" shape-rendering="auto"/>
<line x1="349.5" y1="337" x2="349.5" y2="339.5" shape-rendering="auto"/>
<line x1="353.5" y1="337" x2="353.5" y2="341.6" shape-rendering="auto"/>
<line x1="381.5" y1="337" x2="381.5" y2="339.5" shape-rendering="auto"/>
<line x1="397.5" y1="337" x2="397.5" y2="339.5" shape-rendering="auto"/>
<line x1="409.5" y1="337" x2="409.5" y2="339.5" shape-rendering="auto"/>
<line x1="418.5" y1="337" x2="418.5" y2="339.5" shape-rendering="auto"/>
<line x1="425.5" y1="337" x2="425.5" y2="339.5" shape-rendering="auto"/>
<line x1="431.5" y1="337" x2="431.5" y2="339.5" shape-rendering="auto"/>
<line x1="437.5" y1="337" x2="437.5" y2="339.5" shape-rendering="auto"/>
<line x1="441.5" y1="337" x2="441.5" y2="339.5" shape-rendering="auto"/>
<line x1="445.5" y1="337" x2="445.5" y2="341.6" shape-rendering="auto"/>
<line x1="473.5" y1="337" x2="473.5" y2="339.5" shape-rendering="auto"/>
<line x1="489.5" y1="337" x2="489.5" y2="339.5" shape-rendering="auto"/>
<line x1="501.5" y1="337" x2="501.5" y2="339.5" shape-rendering="auto"/>
<line x1="510.5" y1="337" x2="510.5" y2="339.5" shape-rendering="auto"/>
<line x1="517.5" y1="337" x2="517.5" y2="339.5" shape-rendering="auto"/>
<line x1="523.5" y1="337" x2="523.5" y2="339.5" shape-rendering="auto"/>
<line x1="529.5" y1="337" x2="529.5" y2="339.5" shape-rendering="auto"/>
<line x1="533.5" y1="337" x2="533.5" y2="339.5" shape-rendering="auto"/>
<line x1="538.5" y1="337" x2="538.5" y2="341.6" shape-rendering="auto"/>
<line x1="72.2" y1="336.5" x2="77" y2="336.5" shape-rendering="auto"/>
<line x1="72.2" y1="298.5" x2="77" y2="298.5" shape-rendering="auto"/>
<line x1="72.2" y1="259.5" x2="77" y2="259.5" shape-rendering="auto"/>
<line x1="72.2" y1="221.5" x2="77" y2="221.5" shape-rendering="auto"/>
<line x1="72.2" y1="182.5" x2="77" y2="182.5" shape-rendering="auto"/>
<line x1="72.2" y1="144.5" x2="77" y2="144.5" shape-rendering="auto"/>
<line x1="72.2" y1="106.5" x2="77" y2="106.5" shape-rendering="auto"/>
<line x1="72.2" y1="67.5" x2="77" y2="67.5" shape-rendering="auto"/>
</g>
<text x="77.30" y="357.30" font-size="14" text-anchor="middle" textLength="28.7" lengthAdjust="spacingAndGlyphs">0.01</text>
<text x="169.46" y="357.30" font-size="14" text-anchor="middle" textLength="20.0" lengthAdjust="spacingAndGlyphs">0.1</text>
<text x="261.62" y="357.30" font-size="14" text-anchor="middle" textLength="6.6" lengthAdjust="spacingAndGlyphs">1</text>
<text x="353.78" y="357.30" font-size="14" text-anchor="middle" textLength="15.6" lengthAdjust="spacingAndGlyphs">10</text>
<text x="445.94" y="357.30" font-size="14" text-anchor="middle" textLength="24.4" lengthAdjust="spacingAndGlyphs">100</text>
<text x="538.10" y="357.30" font-size="14" text-anchor="middle" textLength="32.9" lengthAdjust="spacingAndGlyphs">1000</text>
<text x="66.20" y="341.50" font-size="14" text-anchor="end" textLength="35.8" lengthAdjust="spacingAndGlyphs">−200</text>
<text x="66.20" y="303.50" font-size="14" text-anchor="end" textLength="35.8" lengthAdjust="spacingAndGlyphs">−180</text>
<text x="66.20" y="264.50" font-size="14" text-anchor="end" textLength="35.8" lengthAdjust="spacingAndGlyphs">−160</text>
<text x="66.20" y="226.50" font-size="14" text-anchor="end" textLength="35.8" lengthAdjust="spacingAndGlyphs">−140</text>
<text x="66.20" y="187.50" font-size="14" text-anchor="end" textLength="35.8" lengthAdjust="spacingAndGlyphs">−120</text>
<text x="66.20" y="149.50" font-size="14" text-anchor="end" textLength="35.8" lengthAdjust="spacingAndGlyphs">−100</text>
<text x="66.20" y="111.50" font-size="14" text-anchor="end" textLength="27.1" lengthAdjust="spacingAndGlyphs">−80</text>
<text x="66.20" y="72.50" font-size="14" text-anchor="end" textLength="27.1" lengthAdjust="spacingAndGlyphs">−60</text>
<text x="273.60" y="375.80" font-size="14.2" textLength="43.31" lengthAdjust="spacingAndGlyphs">Period</text>
<text x="321.32" y="375.80" font-size="14.2" textLength="18.07" lengthAdjust="spacingAndGlyphs">[s]</text>
<text x="107.60" y="10.20" font-size="12.9" textLength="101.59" lengthAdjust="spacingAndGlyphs">BK.LIND.00.HHZ</text>
<text x="221.11" y="10.20" font-size="12.9" textLength="72.64" lengthAdjust="spacingAndGlyphs">2018-12-23</text>
<text x="297.73" y="10.20" font-size="12.9" textLength="9.02" lengthAdjust="spacingAndGlyphs">--</text>
<text x="310.72" y="10.20" font-size="12.9" textLength="72.64" lengthAdjust="spacingAndGlyphs">2018-12-24</text>
<text x="391.31" y="10.20" font-size="12.9" textLength="40.90" lengthAdjust="spacingAndGlyphs">(47/47</text>
<text x="436.18" y="10.20" font-size="12.9" textLength="66.22" lengthAdjust="spacingAndGlyphs">segments)</text>
<text x="180.20" y="25.20" font-size="12.9" textLength="75.60" lengthAdjust="spacingAndGlyphs">sensor_type</text>
<text x="259.77" y="25.20" font-size="12.9" textLength="49.30" lengthAdjust="spacingAndGlyphs">CMG-3T</text>
<text x="313.04" y="25.20" font-size="12.9" textLength="62.11" lengthAdjust="spacingAndGlyphs">sensor_sn</text>
<text x="379.12" y="25.20" font-size="12.9" textLength="55.35" lengthAdjust="spacingAndGlyphs">T310034</text>
<text x="119.50" y="40.20" font-size="12.9" textLength="102.15" lengthAdjust="spacingAndGlyphs">datalogger_type</text>
<text x="225.63" y="40.20" font-size="12.9" textLength="104.55" lengthAdjust="spacingAndGlyphs">GuralpMinimus+</text>
<text x="334.15" y="40.20" font-size="12.9" textLength="88.66" lengthAdjust="spacingAndGlyphs">datalogger_sn</text>
<text x="426.79" y="40.20" font-size="12.9" textLength="68.32" lengthAdjust="spacingAndGlyphs">MINP-DF59</text>
<g transform="translate(16.5,269.0) rotate(-90)">
<text x="0.00" y="0.00" font-size="14.2" textLength="41.99" lengthAdjust="spacingAndGlyphs">Power</text>
<text x="46.40" y="0.00" font-size="14.2" textLength="5.42" lengthAdjust="spacingAndGlyphs">[</text>
<text x="52.50" y="0.00" font-size="14.2" font-style="italic" textLength="13.50" lengthAdjust="spacingAndGlyphs">m</text>
<text x="66.20" y="-5.20" font-size="10" textLength="6.00" lengthAdjust="spacingAndGlyphs">2</text>
<text x="72.50" y="0.00" font-size="14.2" font-style="italic" textLength="4.68" lengthAdjust="spacingAndGlyphs">/</text>
<text x="77.20" y="0.00" font-size="14.2" font-style="italic" textLength="7.24" lengthAdjust="spacingAndGlyphs">s</text>
<text x="84.70" y="-5.20" font-size="10" textLength="6.00" lengthAdjust="spacingAndGlyphs">4</text>
<text x="91.00" y="0.00" font-size="14.2" font-style="italic" textLength="4.68" lengthAdjust="spacingAndGlyphs">/</text>
<text x="95.70" y="0.00" font-size="14.2" font-style="italic" textLength="17.70" lengthAdjust="spacingAndGlyphs">Hz</text>
<text x="113.50" y="0.00" font-size="14.2" textLength="5.42" lengthAdjust="spacingAndGlyphs">]</text>
<text x="123.30" y="0.00" font-size="14.2" textLength="29.20" lengthAdjust="spacingAndGlyphs">[dB]</text>
</g>
<defs><linearGradient id="cb" x1="0" y1="1" x2="0" y2="0">
<stop offset="0" stop-color="#ffffff"/>
<stop offset="0.05" stop-color="#ff00ff"/>
<stop offset="0.2" stop-color="#0000ff"/>
<stop offset="0.4" stop-color="#00ffff"/>
<stop offset="0.6" stop-color="#00ff00"/>
<stop offset="0.8" stop-color="#ffff00"/>
<stop offset="1" stop-color="#ff0000"/>
</linearGradient></defs>
<rect x="566.5" y="234.5" width="5" height="102" fill="url(#cb)"/>
<rect x="566.5" y="234.5" width="5" height="102" fill="none" stroke="#000" stroke-width="1" shape-rendering="crispEdges"/>
<g stroke="#000" stroke-width="1">
<line x1="581.3" y1="336.5" x2="586.3" y2="336.5"/>
<line x1="581.3" y1="319.5" x2="586.3" y2="319.5"/>
<line x1="581.3" y1="302.5" x2="586.3" y2="302.5"/>
<line x1="581.3" y1="285.5" x2="586.3" y2="285.5"/>
<line x1="581.3" y1="268.5" x2="586.3" y2="268.5"/>
<line x1="581.3" y1="251.5" x2="586.3" y2="251.5"/>
<line x1="581.3" y1="234.5" x2="586.3" y2="234.5"/>
</g>
<text x="591.30" y="342.00" font-size="14" text-anchor="start" textLength="7.7" lengthAdjust="spacingAndGlyphs">0</text>
<text x="591.30" y="324.97" font-size="14" text-anchor="start" textLength="7.4" lengthAdjust="spacingAndGlyphs">5</text>
<text x="591.30" y="307.94" font-size="14" text-anchor="start" textLength="16.4" lengthAdjust="spacingAndGlyphs">10</text>
<text x="591.30" y="290.91" font-size="14" text-anchor="start" textLength="16.1" lengthAdjust="spacingAndGlyphs">15</text>
<text x="591.30" y="273.88" font-size="14" text-anchor="start" textLength="16.6" lengthAdjust="spacingAndGlyphs">20</text>
<text x="591.30" y="256.85" font-size="14" text-anchor="start" textLength="16.3" lengthAdjust="spacingAndGlyphs">25</text>
<text x="591.30" y="239.82" font-size="14" text-anchor="start" textLength="16.6" lengthAdjust="spacingAndGlyphs">30</text>
<g transform="translate(624.2,194.3) rotate(-90)"><text x="0" y="0" font-size="14" text-anchor="middle" textLength="23.0" lengthAdjust="spacingAndGlyphs">[%]</text></g>
<g shape-rendering="crispEdges">
<rect x="116" y="379" width="408" height="8" fill="#008000"/>
<rect x="116" y="387" width="408" height="11" fill="#0000ff"/>
<rect x="96.5" y="379.5" width="448" height="19" fill="none" stroke="#000" stroke-width="1"/>
<g stroke="#000" stroke-width="1">
<line x1="116.5" y1="399" x2="116.5" y2="403.7" shape-rendering="auto"/>
<line x1="167.5" y1="399" x2="167.5" y2="403.7" shape-rendering="auto"/>
<line x1="218.5" y1="399" x2="218.5" y2="403.7" shape-rendering="auto"/>
<line x1="269.5" y1="399" x2="269.5" y2="403.7" shape-rendering="auto"/>
<line x1="320.5" y1="399" x2="320.5" y2="403.7" shape-rendering="auto"/>
<line x1="371.5" y1="399" x2="371.5" y2="403.7" shape-rendering="auto"/>
<line x1="422.5" y1="399" x2="422.5" y2="403.7" shape-rendering="auto"/>
<line x1="473.5" y1="399" x2="473.5" y2="403.7" shape-rendering="auto"/>
<line x1="524.5" y1="399" x2="524.5" y2="403.7" shape-rendering="auto"/>
</g></g>
<g transform="translate(114.10,418.00) rotate(-30)"><text x="-62.45" y="0" font-size="14.2" textLength="40.36" lengthAdjust="spacingAndGlyphs">12-24</text><text x="-17.67" y="0" font-size="14.2" textLength="17.67" lengthAdjust="spacingAndGlyphs">00</text></g>
<g transform="translate(165.10,418.00) rotate(-30)"><text x="-62.45" y="0" font-size="14.2" textLength="40.36" lengthAdjust="spacingAndGlyphs">12-24</text><text x="-17.67" y="0" font-size="14.2" textLength="17.67" lengthAdjust="spacingAndGlyphs">03</text></g>
<g transform="translate(216.10,418.00) rotate(-30)"><text x="-62.45" y="0" font-size="14.2" textLength="40.36" lengthAdjust="spacingAndGlyphs">12-24</text><text x="-17.67" y="0" font-size="14.2" textLength="17.67" lengthAdjust="spacingAndGlyphs">06</text></g>
<g transform="translate(267.10,418.00) rotate(-30)"><text x="-62.45" y="0" font-size="14.2" textLength="40.36" lengthAdjust="spacingAndGlyphs">12-24</text><text x="-17.67" y="0" font-size="14.2" textLength="17.67" lengthAdjust="spacingAndGlyphs">09</text></g>
<g transform="translate(318.10,418.00) rotate(-30)"><text x="-62.45" y="0" font-size="14.2" textLength="40.36" lengthAdjust="spacingAndGlyphs">12-24</text><text x="-17.67" y="0" font-size="14.2" textLength="17.67" lengthAdjust="spacingAndGlyphs">12</text></g>
<g transform="translate(369.10,418.00) rotate(-30)"><text x="-62.45" y="0" font-size="14.2" textLength="40.36" lengthAdjust="spacingAndGlyphs">12-24</text><text x="-17.67" y="0" font-size="14.2" textLength="17.67" lengthAdjust="spacingAndGlyphs">15</text></g>
<g transform="translate(420.10,418.00) rotate(-30)"><text x="-62.45" y="0" font-size="14.2" textLength="40.36" lengthAdjust="spacingAndGlyphs">12-24</text><text x="-17.67" y="0" font-size="14.2" textLength="17.67" lengthAdjust="spacingAndGlyphs">18</text></g>
<g transform="translate(471.10,418.00) rotate(-30)"><text x="-62.45" y="0" font-size="14.2" textLength="40.36" lengthAdjust="spacingAndGlyphs">12-24</text><text x="-17.67" y="0" font-size="14.2" textLength="17.67" lengthAdjust="spacingAndGlyphs">21</text></g>
<g transform="translate(522.10,418.00) rotate(-30)"><text x="-62.45" y="0" font-size="14.2" textLength="40.36" lengthAdjust="spacingAndGlyphs">12-25</text><text x="-17.67" y="0" font-size="14.2" textLength="17.67" lengthAdjust="spacingAndGlyphs">00</text></g>
</svg></body></html>
